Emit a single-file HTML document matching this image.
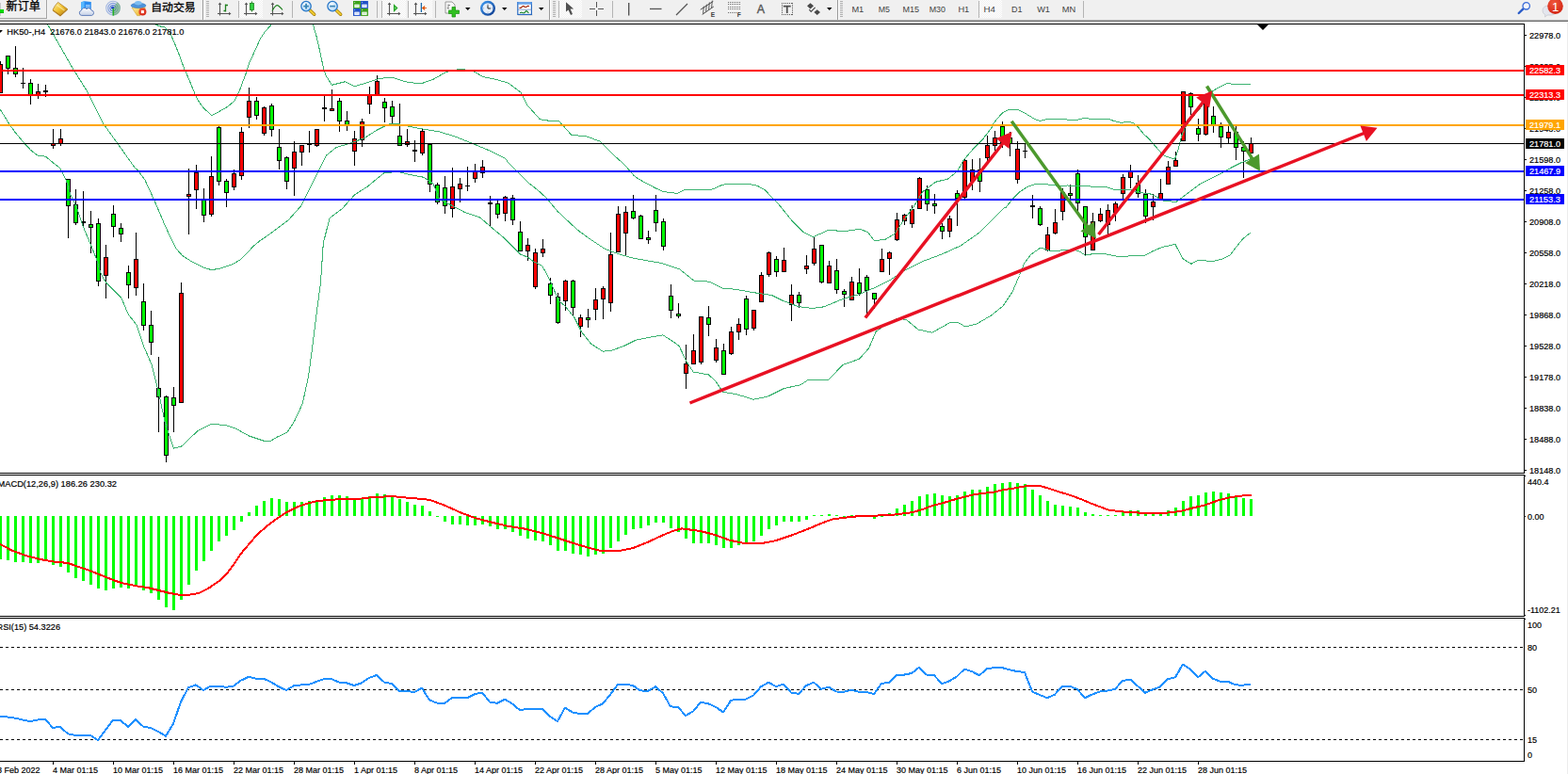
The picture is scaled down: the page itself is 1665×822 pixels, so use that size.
<!DOCTYPE html>
<html><head><meta charset="utf-8"><title>HK50-,H4</title>
<style>
html,body{margin:0;padding:0;background:#fff;}
body{width:1665px;height:822px;overflow:hidden;position:relative;font-family:"Liberation Sans",sans-serif;}
svg text{font-family:"Liberation Sans",sans-serif;}
</style></head><body>
<svg width="1665" height="822" viewBox="0 0 1665 822" style="position:absolute;left:0;top:0">
<defs><clipPath id="cm"><rect x="0" y="26" width="1618" height="476"/></clipPath><clipPath id="c2"><rect x="0" y="505" width="1618" height="149"/></clipPath><clipPath id="c3"><rect x="0" y="657" width="1618" height="151"/></clipPath></defs>
<rect x="0" y="0" width="1665" height="822" fill="#ffffff" />
<g clip-path="url(#cm)" shape-rendering="crispEdges">
<rect x="0" y="65" width="1" height="34" fill="#000" />
<rect x="-2" y="68" width="5" height="31" fill="#000" />
<rect x="-1" y="69" width="3" height="29" fill="#ff0000" />
<rect x="8" y="59" width="1" height="20" fill="#000" />
<rect x="6" y="59" width="5" height="14" fill="#000" />
<rect x="7" y="60" width="3" height="12" fill="#00ff00" />
<rect x="16" y="49" width="1" height="33" fill="#000" />
<rect x="14" y="72" width="5" height="7" fill="#000" />
<rect x="15" y="73" width="3" height="5" fill="#00ff00" />
<rect x="24" y="72" width="1" height="22" fill="#000" />
<rect x="22" y="88" width="5" height="1" fill="#000" />
<rect x="32" y="84" width="1" height="27" fill="#000" />
<rect x="30" y="88" width="5" height="14" fill="#000" />
<rect x="31" y="89" width="3" height="12" fill="#00ff00" />
<rect x="40" y="89" width="1" height="16" fill="#000" />
<rect x="38" y="97" width="5" height="4" fill="#000" />
<rect x="39" y="98" width="3" height="2" fill="#ff0000" />
<rect x="48" y="90" width="1" height="13" fill="#000" />
<rect x="46" y="96" width="5" height="2" fill="#000" />
<rect x="56" y="137" width="1" height="21" fill="#000" />
<rect x="54" y="152" width="5" height="3" fill="#000" />
<rect x="55" y="153" width="3" height="1" fill="#ff0000" />
<rect x="64" y="137" width="1" height="18" fill="#000" />
<rect x="62" y="147" width="5" height="6" fill="#000" />
<rect x="63" y="148" width="3" height="4" fill="#ff0000" />
<rect x="72" y="190" width="1" height="63" fill="#000" />
<rect x="70" y="190" width="5" height="29" fill="#000" />
<rect x="71" y="191" width="3" height="27" fill="#00ff00" />
<rect x="80" y="201" width="1" height="38" fill="#000" />
<rect x="78" y="217" width="5" height="20" fill="#000" />
<rect x="79" y="218" width="3" height="18" fill="#00ff00" />
<rect x="88" y="203" width="1" height="39" fill="#000" />
<rect x="86" y="235" width="5" height="2" fill="#000" />
<rect x="96" y="224" width="1" height="45" fill="#000" />
<rect x="94" y="238" width="5" height="4" fill="#000" />
<rect x="95" y="239" width="3" height="2" fill="#00ff00" />
<rect x="104" y="232" width="1" height="72" fill="#000" />
<rect x="102" y="237" width="5" height="62" fill="#000" />
<rect x="103" y="238" width="3" height="60" fill="#00ff00" />
<rect x="112" y="260" width="1" height="57" fill="#000" />
<rect x="110" y="273" width="5" height="20" fill="#000" />
<rect x="111" y="274" width="3" height="18" fill="#ff0000" />
<rect x="120" y="218" width="1" height="34" fill="#000" />
<rect x="118" y="227" width="5" height="14" fill="#000" />
<rect x="119" y="228" width="3" height="12" fill="#00ff00" />
<rect x="128" y="237" width="1" height="20" fill="#000" />
<rect x="126" y="242" width="5" height="7" fill="#000" />
<rect x="127" y="243" width="3" height="5" fill="#00ff00" />
<rect x="136" y="282" width="1" height="35" fill="#000" />
<rect x="134" y="289" width="5" height="14" fill="#000" />
<rect x="135" y="290" width="3" height="12" fill="#00ff00" />
<rect x="144" y="247" width="1" height="67" fill="#000" />
<rect x="142" y="275" width="5" height="31" fill="#000" />
<rect x="143" y="276" width="3" height="29" fill="#ff0000" />
<rect x="152" y="301" width="1" height="50" fill="#000" />
<rect x="150" y="320" width="5" height="26" fill="#000" />
<rect x="151" y="321" width="3" height="24" fill="#00ff00" />
<rect x="160" y="330" width="1" height="47" fill="#000" />
<rect x="158" y="345" width="5" height="19" fill="#000" />
<rect x="159" y="346" width="3" height="17" fill="#00ff00" />
<rect x="168" y="379" width="1" height="80" fill="#000" />
<rect x="166" y="412" width="5" height="10" fill="#000" />
<rect x="167" y="413" width="3" height="8" fill="#00ff00" />
<rect x="176" y="420" width="1" height="71" fill="#000" />
<rect x="174" y="421" width="5" height="63" fill="#000" />
<rect x="175" y="422" width="3" height="61" fill="#00ff00" />
<rect x="184" y="411" width="1" height="48" fill="#000" />
<rect x="182" y="422" width="5" height="9" fill="#000" />
<rect x="183" y="423" width="3" height="7" fill="#00ff00" />
<rect x="192" y="300" width="1" height="128" fill="#000" />
<rect x="190" y="311" width="5" height="117" fill="#000" />
<rect x="191" y="312" width="3" height="115" fill="#ff0000" />
<rect x="200" y="179" width="1" height="70" fill="#000" />
<rect x="198" y="206" width="5" height="3" fill="#000" />
<rect x="199" y="207" width="3" height="1" fill="#ff0000" />
<rect x="208" y="175" width="1" height="47" fill="#000" />
<rect x="206" y="183" width="5" height="19" fill="#000" />
<rect x="207" y="184" width="3" height="17" fill="#ff0000" />
<rect x="216" y="200" width="1" height="36" fill="#000" />
<rect x="214" y="212" width="5" height="17" fill="#000" />
<rect x="215" y="213" width="3" height="15" fill="#00ff00" />
<rect x="224" y="166" width="1" height="64" fill="#000" />
<rect x="222" y="187" width="5" height="41" fill="#000" />
<rect x="223" y="188" width="3" height="39" fill="#ff0000" />
<rect x="232" y="134" width="1" height="63" fill="#000" />
<rect x="230" y="135" width="5" height="58" fill="#000" />
<rect x="231" y="136" width="3" height="56" fill="#00ff00" />
<rect x="240" y="190" width="1" height="30" fill="#000" />
<rect x="238" y="192" width="5" height="13" fill="#000" />
<rect x="239" y="193" width="3" height="11" fill="#00ff00" />
<rect x="248" y="180" width="1" height="22" fill="#000" />
<rect x="246" y="184" width="5" height="15" fill="#000" />
<rect x="247" y="185" width="3" height="13" fill="#ff0000" />
<rect x="256" y="135" width="1" height="56" fill="#000" />
<rect x="254" y="140" width="5" height="47" fill="#000" />
<rect x="255" y="141" width="3" height="45" fill="#ff0000" />
<rect x="264" y="93" width="1" height="43" fill="#000" />
<rect x="262" y="107" width="5" height="18" fill="#000" />
<rect x="263" y="108" width="3" height="16" fill="#ff0000" />
<rect x="272" y="103" width="1" height="24" fill="#000" />
<rect x="270" y="107" width="5" height="16" fill="#000" />
<rect x="271" y="108" width="3" height="14" fill="#00ff00" />
<rect x="280" y="113" width="1" height="31" fill="#000" />
<rect x="278" y="114" width="5" height="28" fill="#000" />
<rect x="279" y="115" width="3" height="26" fill="#ff0000" />
<rect x="288" y="110" width="1" height="35" fill="#000" />
<rect x="286" y="112" width="5" height="26" fill="#000" />
<rect x="287" y="113" width="3" height="24" fill="#00ff00" />
<rect x="296" y="137" width="1" height="43" fill="#000" />
<rect x="294" y="156" width="5" height="15" fill="#000" />
<rect x="295" y="157" width="3" height="13" fill="#00ff00" />
<rect x="304" y="166" width="1" height="35" fill="#000" />
<rect x="302" y="167" width="5" height="26" fill="#000" />
<rect x="303" y="168" width="3" height="24" fill="#00ff00" />
<rect x="312" y="150" width="1" height="58" fill="#000" />
<rect x="310" y="161" width="5" height="18" fill="#000" />
<rect x="311" y="162" width="3" height="16" fill="#ff0000" />
<rect x="320" y="154" width="1" height="22" fill="#000" />
<rect x="318" y="154" width="5" height="8" fill="#000" />
<rect x="319" y="155" width="3" height="6" fill="#ff0000" />
<rect x="328" y="139" width="1" height="23" fill="#000" />
<rect x="326" y="153" width="5" height="1" fill="#000" />
<rect x="336" y="137" width="1" height="19" fill="#000" />
<rect x="334" y="137" width="5" height="18" fill="#000" />
<rect x="335" y="138" width="3" height="16" fill="#ff0000" />
<rect x="344" y="102" width="1" height="27" fill="#000" />
<rect x="342" y="114" width="5" height="2" fill="#000" />
<rect x="352" y="95" width="1" height="23" fill="#000" />
<rect x="350" y="115" width="5" height="3" fill="#000" />
<rect x="351" y="116" width="3" height="1" fill="#ff0000" />
<rect x="360" y="104" width="1" height="36" fill="#000" />
<rect x="358" y="107" width="5" height="22" fill="#000" />
<rect x="359" y="108" width="3" height="20" fill="#00ff00" />
<rect x="368" y="118" width="1" height="21" fill="#000" />
<rect x="366" y="128" width="5" height="5" fill="#000" />
<rect x="367" y="129" width="3" height="3" fill="#00ff00" />
<rect x="376" y="139" width="1" height="37" fill="#000" />
<rect x="374" y="147" width="5" height="14" fill="#000" />
<rect x="375" y="148" width="3" height="12" fill="#ff0000" />
<rect x="384" y="126" width="1" height="30" fill="#000" />
<rect x="382" y="129" width="5" height="20" fill="#000" />
<rect x="383" y="130" width="3" height="18" fill="#ff0000" />
<rect x="392" y="92" width="1" height="29" fill="#000" />
<rect x="390" y="101" width="5" height="10" fill="#000" />
<rect x="391" y="102" width="3" height="8" fill="#ff0000" />
<rect x="400" y="80" width="1" height="22" fill="#000" />
<rect x="398" y="86" width="5" height="16" fill="#000" />
<rect x="399" y="87" width="3" height="14" fill="#ff0000" />
<rect x="408" y="104" width="1" height="26" fill="#000" />
<rect x="406" y="108" width="5" height="7" fill="#000" />
<rect x="407" y="109" width="3" height="5" fill="#00ff00" />
<rect x="416" y="107" width="1" height="25" fill="#000" />
<rect x="414" y="113" width="5" height="11" fill="#000" />
<rect x="415" y="114" width="3" height="9" fill="#00ff00" />
<rect x="424" y="110" width="1" height="45" fill="#000" />
<rect x="422" y="144" width="5" height="11" fill="#000" />
<rect x="423" y="145" width="3" height="9" fill="#00ff00" />
<rect x="432" y="137" width="1" height="19" fill="#000" />
<rect x="430" y="150" width="5" height="4" fill="#000" />
<rect x="431" y="151" width="3" height="2" fill="#ff0000" />
<rect x="440" y="149" width="1" height="23" fill="#000" />
<rect x="438" y="159" width="5" height="2" fill="#000" />
<rect x="448" y="136" width="1" height="29" fill="#000" />
<rect x="446" y="139" width="5" height="24" fill="#000" />
<rect x="447" y="140" width="3" height="22" fill="#ff0000" />
<rect x="456" y="152" width="1" height="52" fill="#000" />
<rect x="454" y="153" width="5" height="43" fill="#000" />
<rect x="455" y="154" width="3" height="41" fill="#00ff00" />
<rect x="464" y="194" width="1" height="23" fill="#000" />
<rect x="462" y="196" width="5" height="19" fill="#000" />
<rect x="463" y="197" width="3" height="17" fill="#00ff00" />
<rect x="472" y="187" width="1" height="40" fill="#000" />
<rect x="470" y="199" width="5" height="20" fill="#000" />
<rect x="471" y="200" width="3" height="18" fill="#00ff00" />
<rect x="480" y="178" width="1" height="53" fill="#000" />
<rect x="478" y="198" width="5" height="24" fill="#000" />
<rect x="479" y="199" width="3" height="22" fill="#ff0000" />
<rect x="488" y="189" width="1" height="26" fill="#000" />
<rect x="486" y="195" width="5" height="6" fill="#000" />
<rect x="487" y="196" width="3" height="4" fill="#ff0000" />
<rect x="496" y="177" width="1" height="26" fill="#000" />
<rect x="494" y="197" width="5" height="1" fill="#000" />
<rect x="504" y="174" width="1" height="20" fill="#000" />
<rect x="502" y="182" width="5" height="8" fill="#000" />
<rect x="503" y="183" width="3" height="6" fill="#ff0000" />
<rect x="512" y="170" width="1" height="19" fill="#000" />
<rect x="510" y="177" width="5" height="7" fill="#000" />
<rect x="511" y="178" width="3" height="5" fill="#ff0000" />
<rect x="520" y="208" width="1" height="32" fill="#000" />
<rect x="518" y="215" width="5" height="2" fill="#000" />
<rect x="528" y="213" width="1" height="19" fill="#000" />
<rect x="526" y="216" width="5" height="12" fill="#000" />
<rect x="527" y="217" width="3" height="10" fill="#00ff00" />
<rect x="536" y="208" width="1" height="27" fill="#000" />
<rect x="534" y="209" width="5" height="18" fill="#000" />
<rect x="535" y="210" width="3" height="16" fill="#ff0000" />
<rect x="544" y="207" width="1" height="32" fill="#000" />
<rect x="542" y="210" width="5" height="24" fill="#000" />
<rect x="543" y="211" width="3" height="22" fill="#00ff00" />
<rect x="552" y="235" width="1" height="32" fill="#000" />
<rect x="550" y="246" width="5" height="21" fill="#000" />
<rect x="551" y="247" width="3" height="19" fill="#00ff00" />
<rect x="560" y="253" width="1" height="24" fill="#000" />
<rect x="558" y="260" width="5" height="7" fill="#000" />
<rect x="559" y="261" width="3" height="5" fill="#ff0000" />
<rect x="568" y="264" width="1" height="43" fill="#000" />
<rect x="566" y="268" width="5" height="37" fill="#000" />
<rect x="567" y="269" width="3" height="35" fill="#ff0000" />
<rect x="576" y="254" width="1" height="19" fill="#000" />
<rect x="574" y="264" width="5" height="5" fill="#000" />
<rect x="575" y="265" width="3" height="3" fill="#ff0000" />
<rect x="584" y="295" width="1" height="28" fill="#000" />
<rect x="582" y="301" width="5" height="13" fill="#000" />
<rect x="583" y="302" width="3" height="11" fill="#00ff00" />
<rect x="592" y="311" width="1" height="33" fill="#000" />
<rect x="590" y="315" width="5" height="28" fill="#000" />
<rect x="591" y="316" width="3" height="26" fill="#00ff00" />
<rect x="600" y="297" width="1" height="33" fill="#000" />
<rect x="598" y="298" width="5" height="22" fill="#000" />
<rect x="599" y="299" width="3" height="20" fill="#ff0000" />
<rect x="608" y="297" width="1" height="39" fill="#000" />
<rect x="606" y="298" width="5" height="29" fill="#000" />
<rect x="607" y="299" width="3" height="27" fill="#00ff00" />
<rect x="616" y="334" width="1" height="24" fill="#000" />
<rect x="614" y="337" width="5" height="10" fill="#000" />
<rect x="615" y="338" width="3" height="8" fill="#ff0000" />
<rect x="624" y="328" width="1" height="20" fill="#000" />
<rect x="622" y="337" width="5" height="3" fill="#000" />
<rect x="623" y="338" width="3" height="1" fill="#00ff00" />
<rect x="632" y="306" width="1" height="34" fill="#000" />
<rect x="630" y="318" width="5" height="11" fill="#000" />
<rect x="631" y="319" width="3" height="9" fill="#ff0000" />
<rect x="640" y="304" width="1" height="35" fill="#000" />
<rect x="638" y="306" width="5" height="12" fill="#000" />
<rect x="639" y="307" width="3" height="10" fill="#ff0000" />
<rect x="648" y="247" width="1" height="84" fill="#000" />
<rect x="646" y="270" width="5" height="52" fill="#000" />
<rect x="647" y="271" width="3" height="50" fill="#ff0000" />
<rect x="656" y="219" width="1" height="49" fill="#000" />
<rect x="654" y="227" width="5" height="41" fill="#000" />
<rect x="655" y="228" width="3" height="39" fill="#ff0000" />
<rect x="664" y="219" width="1" height="52" fill="#000" />
<rect x="662" y="225" width="5" height="23" fill="#000" />
<rect x="663" y="226" width="3" height="21" fill="#ff0000" />
<rect x="672" y="207" width="1" height="26" fill="#000" />
<rect x="670" y="224" width="5" height="8" fill="#000" />
<rect x="671" y="225" width="3" height="6" fill="#00ff00" />
<rect x="680" y="228" width="1" height="26" fill="#000" />
<rect x="678" y="229" width="5" height="25" fill="#000" />
<rect x="679" y="230" width="3" height="23" fill="#00ff00" />
<rect x="688" y="245" width="1" height="14" fill="#000" />
<rect x="686" y="252" width="5" height="3" fill="#000" />
<rect x="687" y="253" width="3" height="1" fill="#00ff00" />
<rect x="696" y="207" width="1" height="39" fill="#000" />
<rect x="694" y="223" width="5" height="14" fill="#000" />
<rect x="695" y="224" width="3" height="12" fill="#00ff00" />
<rect x="704" y="232" width="1" height="34" fill="#000" />
<rect x="702" y="235" width="5" height="27" fill="#000" />
<rect x="703" y="236" width="3" height="25" fill="#00ff00" />
<rect x="712" y="302" width="1" height="36" fill="#000" />
<rect x="710" y="314" width="5" height="16" fill="#000" />
<rect x="711" y="315" width="3" height="14" fill="#00ff00" />
<rect x="720" y="322" width="1" height="16" fill="#000" />
<rect x="718" y="333" width="5" height="3" fill="#000" />
<rect x="719" y="334" width="3" height="1" fill="#00ff00" />
<rect x="728" y="366" width="1" height="47" fill="#000" />
<rect x="726" y="386" width="5" height="11" fill="#000" />
<rect x="727" y="387" width="3" height="9" fill="#ff0000" />
<rect x="736" y="355" width="1" height="32" fill="#000" />
<rect x="734" y="372" width="5" height="15" fill="#000" />
<rect x="735" y="373" width="3" height="13" fill="#ff0000" />
<rect x="744" y="336" width="1" height="51" fill="#000" />
<rect x="742" y="336" width="5" height="49" fill="#000" />
<rect x="743" y="337" width="3" height="47" fill="#ff0000" />
<rect x="752" y="325" width="1" height="32" fill="#000" />
<rect x="750" y="337" width="5" height="8" fill="#000" />
<rect x="751" y="338" width="3" height="6" fill="#00ff00" />
<rect x="760" y="360" width="1" height="25" fill="#000" />
<rect x="758" y="369" width="5" height="14" fill="#000" />
<rect x="759" y="370" width="3" height="12" fill="#ff0000" />
<rect x="768" y="365" width="1" height="33" fill="#000" />
<rect x="766" y="372" width="5" height="26" fill="#000" />
<rect x="767" y="373" width="3" height="24" fill="#00ff00" />
<rect x="776" y="347" width="1" height="30" fill="#000" />
<rect x="774" y="352" width="5" height="24" fill="#000" />
<rect x="775" y="353" width="3" height="22" fill="#ff0000" />
<rect x="784" y="338" width="1" height="23" fill="#000" />
<rect x="782" y="344" width="5" height="9" fill="#000" />
<rect x="783" y="345" width="3" height="7" fill="#ff0000" />
<rect x="792" y="314" width="1" height="42" fill="#000" />
<rect x="790" y="317" width="5" height="33" fill="#000" />
<rect x="791" y="318" width="3" height="31" fill="#00ff00" />
<rect x="800" y="329" width="1" height="22" fill="#000" />
<rect x="798" y="329" width="5" height="20" fill="#000" />
<rect x="799" y="330" width="3" height="18" fill="#ff0000" />
<rect x="808" y="289" width="1" height="32" fill="#000" />
<rect x="806" y="292" width="5" height="29" fill="#000" />
<rect x="807" y="293" width="3" height="27" fill="#ff0000" />
<rect x="816" y="267" width="1" height="27" fill="#000" />
<rect x="814" y="268" width="5" height="24" fill="#000" />
<rect x="815" y="269" width="3" height="22" fill="#ff0000" />
<rect x="824" y="272" width="1" height="22" fill="#000" />
<rect x="822" y="275" width="5" height="14" fill="#000" />
<rect x="823" y="276" width="3" height="12" fill="#00ff00" />
<rect x="832" y="263" width="1" height="26" fill="#000" />
<rect x="830" y="276" width="5" height="13" fill="#000" />
<rect x="831" y="277" width="3" height="11" fill="#ff0000" />
<rect x="840" y="302" width="1" height="39" fill="#000" />
<rect x="838" y="313" width="5" height="11" fill="#000" />
<rect x="839" y="314" width="3" height="9" fill="#ff0000" />
<rect x="848" y="310" width="1" height="17" fill="#000" />
<rect x="846" y="313" width="5" height="9" fill="#000" />
<rect x="847" y="314" width="3" height="7" fill="#00ff00" />
<rect x="856" y="271" width="1" height="20" fill="#000" />
<rect x="854" y="282" width="5" height="4" fill="#000" />
<rect x="855" y="283" width="3" height="2" fill="#ff0000" />
<rect x="864" y="252" width="1" height="30" fill="#000" />
<rect x="862" y="264" width="5" height="16" fill="#000" />
<rect x="863" y="265" width="3" height="14" fill="#ff0000" />
<rect x="872" y="260" width="1" height="41" fill="#000" />
<rect x="870" y="260" width="5" height="40" fill="#000" />
<rect x="871" y="261" width="3" height="38" fill="#00ff00" />
<rect x="880" y="277" width="1" height="24" fill="#000" />
<rect x="878" y="282" width="5" height="19" fill="#000" />
<rect x="879" y="283" width="3" height="17" fill="#ff0000" />
<rect x="888" y="275" width="1" height="37" fill="#000" />
<rect x="886" y="287" width="5" height="21" fill="#000" />
<rect x="887" y="288" width="3" height="19" fill="#00ff00" />
<rect x="896" y="307" width="1" height="19" fill="#000" />
<rect x="894" y="309" width="5" height="4" fill="#000" />
<rect x="895" y="310" width="3" height="2" fill="#00ff00" />
<rect x="904" y="294" width="1" height="25" fill="#000" />
<rect x="902" y="299" width="5" height="20" fill="#000" />
<rect x="903" y="300" width="3" height="18" fill="#ff0000" />
<rect x="912" y="285" width="1" height="29" fill="#000" />
<rect x="910" y="300" width="5" height="12" fill="#000" />
<rect x="911" y="301" width="3" height="10" fill="#00ff00" />
<rect x="920" y="292" width="1" height="43" fill="#000" />
<rect x="918" y="294" width="5" height="15" fill="#000" />
<rect x="919" y="295" width="3" height="13" fill="#00ff00" />
<rect x="928" y="311" width="1" height="17" fill="#000" />
<rect x="926" y="311" width="5" height="7" fill="#000" />
<rect x="927" y="312" width="3" height="5" fill="#00ff00" />
<rect x="936" y="264" width="1" height="25" fill="#000" />
<rect x="934" y="275" width="5" height="14" fill="#000" />
<rect x="935" y="276" width="3" height="12" fill="#ff0000" />
<rect x="944" y="267" width="1" height="25" fill="#000" />
<rect x="942" y="268" width="5" height="7" fill="#000" />
<rect x="943" y="269" width="3" height="5" fill="#ff0000" />
<rect x="952" y="226" width="1" height="30" fill="#000" />
<rect x="950" y="233" width="5" height="22" fill="#000" />
<rect x="951" y="234" width="3" height="20" fill="#ff0000" />
<rect x="960" y="227" width="1" height="12" fill="#000" />
<rect x="958" y="228" width="5" height="7" fill="#000" />
<rect x="959" y="229" width="3" height="5" fill="#ff0000" />
<rect x="968" y="218" width="1" height="24" fill="#000" />
<rect x="966" y="222" width="5" height="16" fill="#000" />
<rect x="967" y="223" width="3" height="14" fill="#ff0000" />
<rect x="976" y="188" width="1" height="34" fill="#000" />
<rect x="974" y="189" width="5" height="33" fill="#000" />
<rect x="975" y="190" width="3" height="31" fill="#ff0000" />
<rect x="984" y="197" width="1" height="27" fill="#000" />
<rect x="982" y="201" width="5" height="16" fill="#000" />
<rect x="983" y="202" width="3" height="14" fill="#00ff00" />
<rect x="992" y="206" width="1" height="21" fill="#000" />
<rect x="990" y="216" width="5" height="3" fill="#000" />
<rect x="991" y="217" width="3" height="1" fill="#00ff00" />
<rect x="1000" y="237" width="1" height="17" fill="#000" />
<rect x="998" y="240" width="5" height="6" fill="#000" />
<rect x="999" y="241" width="3" height="4" fill="#00ff00" />
<rect x="1008" y="229" width="1" height="23" fill="#000" />
<rect x="1006" y="232" width="5" height="14" fill="#000" />
<rect x="1007" y="233" width="3" height="12" fill="#ff0000" />
<rect x="1016" y="202" width="1" height="38" fill="#000" />
<rect x="1014" y="205" width="5" height="6" fill="#000" />
<rect x="1015" y="206" width="3" height="4" fill="#00ff00" />
<rect x="1024" y="168" width="1" height="43" fill="#000" />
<rect x="1022" y="170" width="5" height="40" fill="#000" />
<rect x="1023" y="171" width="3" height="38" fill="#ff0000" />
<rect x="1032" y="169" width="1" height="33" fill="#000" />
<rect x="1030" y="180" width="5" height="13" fill="#000" />
<rect x="1031" y="181" width="3" height="11" fill="#ff0000" />
<rect x="1040" y="168" width="1" height="36" fill="#000" />
<rect x="1038" y="180" width="5" height="13" fill="#000" />
<rect x="1039" y="181" width="3" height="11" fill="#00ff00" />
<rect x="1048" y="144" width="1" height="27" fill="#000" />
<rect x="1046" y="154" width="5" height="14" fill="#000" />
<rect x="1047" y="155" width="3" height="12" fill="#ff0000" />
<rect x="1056" y="139" width="1" height="21" fill="#000" />
<rect x="1054" y="146" width="5" height="9" fill="#000" />
<rect x="1055" y="147" width="3" height="7" fill="#ff0000" />
<rect x="1064" y="129" width="1" height="28" fill="#000" />
<rect x="1062" y="134" width="5" height="18" fill="#000" />
<rect x="1063" y="135" width="3" height="16" fill="#00ff00" />
<rect x="1072" y="140" width="1" height="26" fill="#000" />
<rect x="1070" y="146" width="5" height="7" fill="#000" />
<rect x="1071" y="147" width="3" height="5" fill="#00ff00" />
<rect x="1080" y="150" width="1" height="45" fill="#000" />
<rect x="1078" y="158" width="5" height="33" fill="#000" />
<rect x="1079" y="159" width="3" height="31" fill="#ff0000" />
<rect x="1088" y="152" width="1" height="16" fill="#000" />
<rect x="1086" y="160" width="5" height="1" fill="#000" />
<rect x="1096" y="207" width="1" height="25" fill="#000" />
<rect x="1094" y="218" width="5" height="2" fill="#000" />
<rect x="1104" y="219" width="1" height="21" fill="#000" />
<rect x="1102" y="221" width="5" height="18" fill="#000" />
<rect x="1103" y="222" width="3" height="16" fill="#00ff00" />
<rect x="1112" y="241" width="1" height="26" fill="#000" />
<rect x="1110" y="249" width="5" height="17" fill="#000" />
<rect x="1111" y="250" width="3" height="15" fill="#ff0000" />
<rect x="1120" y="222" width="1" height="27" fill="#000" />
<rect x="1118" y="236" width="5" height="12" fill="#000" />
<rect x="1119" y="237" width="3" height="10" fill="#ff0000" />
<rect x="1128" y="200" width="1" height="34" fill="#000" />
<rect x="1126" y="204" width="5" height="21" fill="#000" />
<rect x="1127" y="205" width="3" height="19" fill="#ff0000" />
<rect x="1136" y="196" width="1" height="15" fill="#000" />
<rect x="1134" y="205" width="5" height="3" fill="#000" />
<rect x="1135" y="206" width="3" height="1" fill="#00ff00" />
<rect x="1144" y="180" width="1" height="44" fill="#000" />
<rect x="1142" y="184" width="5" height="32" fill="#000" />
<rect x="1143" y="185" width="3" height="30" fill="#00ff00" />
<rect x="1152" y="219" width="1" height="52" fill="#000" />
<rect x="1150" y="219" width="5" height="33" fill="#000" />
<rect x="1151" y="220" width="3" height="31" fill="#00ff00" />
<rect x="1160" y="226" width="1" height="40" fill="#000" />
<rect x="1158" y="235" width="5" height="31" fill="#000" />
<rect x="1159" y="236" width="3" height="29" fill="#ff0000" />
<rect x="1168" y="221" width="1" height="15" fill="#000" />
<rect x="1166" y="227" width="5" height="8" fill="#000" />
<rect x="1167" y="228" width="3" height="6" fill="#ff0000" />
<rect x="1176" y="217" width="1" height="32" fill="#000" />
<rect x="1174" y="223" width="5" height="16" fill="#000" />
<rect x="1175" y="224" width="3" height="14" fill="#ff0000" />
<rect x="1184" y="214" width="1" height="21" fill="#000" />
<rect x="1182" y="216" width="5" height="10" fill="#000" />
<rect x="1183" y="217" width="3" height="8" fill="#ff0000" />
<rect x="1192" y="185" width="1" height="27" fill="#000" />
<rect x="1190" y="188" width="5" height="18" fill="#000" />
<rect x="1191" y="189" width="3" height="16" fill="#ff0000" />
<rect x="1200" y="175" width="1" height="25" fill="#000" />
<rect x="1198" y="182" width="5" height="7" fill="#000" />
<rect x="1199" y="183" width="3" height="5" fill="#ff0000" />
<rect x="1208" y="186" width="1" height="24" fill="#000" />
<rect x="1206" y="194" width="5" height="12" fill="#000" />
<rect x="1207" y="195" width="3" height="10" fill="#00ff00" />
<rect x="1216" y="201" width="1" height="36" fill="#000" />
<rect x="1214" y="206" width="5" height="24" fill="#000" />
<rect x="1215" y="207" width="3" height="22" fill="#00ff00" />
<rect x="1224" y="206" width="1" height="28" fill="#000" />
<rect x="1222" y="214" width="5" height="6" fill="#000" />
<rect x="1223" y="215" width="3" height="4" fill="#ff0000" />
<rect x="1232" y="190" width="1" height="22" fill="#000" />
<rect x="1230" y="205" width="5" height="7" fill="#000" />
<rect x="1231" y="206" width="3" height="5" fill="#ff0000" />
<rect x="1240" y="171" width="1" height="25" fill="#000" />
<rect x="1238" y="177" width="5" height="19" fill="#000" />
<rect x="1239" y="178" width="3" height="17" fill="#ff0000" />
<rect x="1248" y="161" width="1" height="16" fill="#000" />
<rect x="1246" y="170" width="5" height="7" fill="#000" />
<rect x="1247" y="171" width="3" height="5" fill="#ff0000" />
<rect x="1256" y="97" width="1" height="53" fill="#000" />
<rect x="1254" y="97" width="5" height="53" fill="#000" />
<rect x="1255" y="98" width="3" height="51" fill="#ff0000" />
<rect x="1264" y="98" width="1" height="24" fill="#000" />
<rect x="1262" y="99" width="5" height="15" fill="#000" />
<rect x="1263" y="100" width="3" height="13" fill="#00ff00" />
<rect x="1272" y="126" width="1" height="24" fill="#000" />
<rect x="1270" y="136" width="5" height="7" fill="#000" />
<rect x="1271" y="137" width="3" height="5" fill="#00ff00" />
<rect x="1280" y="100" width="1" height="44" fill="#000" />
<rect x="1278" y="100" width="5" height="43" fill="#000" />
<rect x="1279" y="101" width="3" height="41" fill="#ff0000" />
<rect x="1288" y="113" width="1" height="28" fill="#000" />
<rect x="1286" y="123" width="5" height="10" fill="#000" />
<rect x="1287" y="124" width="3" height="8" fill="#00ff00" />
<rect x="1296" y="130" width="1" height="27" fill="#000" />
<rect x="1294" y="134" width="5" height="12" fill="#000" />
<rect x="1295" y="135" width="3" height="10" fill="#00ff00" />
<rect x="1304" y="132" width="1" height="20" fill="#000" />
<rect x="1302" y="140" width="5" height="7" fill="#000" />
<rect x="1303" y="141" width="3" height="5" fill="#ff0000" />
<rect x="1312" y="134" width="1" height="36" fill="#000" />
<rect x="1310" y="140" width="5" height="17" fill="#000" />
<rect x="1311" y="141" width="3" height="15" fill="#00ff00" />
<rect x="1320" y="150" width="1" height="39" fill="#000" />
<rect x="1318" y="156" width="5" height="5" fill="#000" />
<rect x="1319" y="157" width="3" height="3" fill="#00ff00" />
<rect x="1328" y="146" width="1" height="17" fill="#000" />
<rect x="1326" y="152" width="5" height="11" fill="#000" />
<rect x="1327" y="153" width="3" height="9" fill="#ff0000" />
<polyline points="165.2,25.8 169.0,27.7 175.3,29.0 180.4,34.6 185.4,46.0 190.5,58.7 195.5,72.6 200.6,84.0 205.7,96.6 209.5,105.5 215.8,114.3 224.6,122.6 232.2,118.8 241.1,113.7 248.7,107.4 253.7,97.9 257.5,87.8 261.3,77.7 264.5,67.5 270.2,54.9 276.5,41.0 281.6,33.4 287.9,26.4 289.0,25.0" fill="none" stroke="#3cb371" stroke-width="1" />
<polyline points="332.0,25.0 336.0,38.4 339.8,54.9 343.5,72.6 346.1,80.2 352.4,90.3 357.5,89.0 366.7,86.7 376.7,91.7 390.0,87.7 403.3,83.3 416.7,82.3 430.0,86.7 446.7,89.0 460.0,84.3 473.3,76.7 486.7,73.7 500.0,74.3 513.3,81.7 526.7,84.3 540.0,88.3 553.3,98.3 560.0,111.7 573.3,126.7 583.3,128.3 593.3,128.3 606.7,143.3 623.3,145.0 636.7,150.0 650.0,163.3 663.3,175.0 673.3,186.7 677.8,190.0 686.5,194.7 696.0,199.8 703.9,203.4 711.8,204.7 719.7,205.3 727.6,201.4 741.9,201.4 756.1,201.1 767.2,196.3 773.5,195.2 794.1,195.2 803.6,197.1 811.5,201.1 820.0,209.8 826.7,216.7 840.0,233.3 853.3,246.7 863.3,251.7 880.0,244.3 896.7,245.7 913.3,243.3 921.7,246.7 928.3,255.7 940.0,254.3 950.0,248.3 960.0,233.3 970.0,220.0 980.0,203.3 993.3,193.3 1006.7,190.0 1016.7,181.7 1023.3,170.0 1033.3,158.3 1043.3,148.3 1053.3,135.0 1054.9,131.4 1058.9,126.1 1064.3,120.0 1071.0,116.3 1080.3,116.0 1087.0,119.4 1093.7,123.4 1099.1,126.7 1104.4,128.5 1111.1,126.7 1120.5,126.7 1127.2,126.1 1133.9,127.1 1144.6,127.1 1151.3,125.4 1158.0,126.3 1167.3,126.3 1176.7,126.3 1183.4,128.7 1190.1,130.3 1198.1,129.4 1203.5,130.7 1208.8,135.4 1214.2,142.1 1220.0,147.5 1224.8,153.0 1235.0,164.7 1242.3,167.6 1247.4,169.0 1249.3,164.7 1251.0,158.8 1254.7,144.2 1258.3,135.5 1265.6,125.3 1274.4,115.0 1281.7,104.8 1287.5,96.8 1294.8,92.4 1303.6,88.3 1309.4,89.5 1328.0,89.5" fill="none" stroke="#3cb371" stroke-width="1" />
<polyline points="50.0,25.0 63.3,48.3 76.7,71.7 93.3,98.3 110.0,131.7 126.7,155.0 143.3,178.3 145.7,180.0 153.7,190.7 161.7,208.0 167.0,220.0 173.8,236.2 180.5,251.0 187.2,264.3 193.9,271.7 204.6,278.4 215.3,283.7 224.7,286.7 234.0,285.0 247.4,280.4 255.4,275.7 260.8,270.4 268.8,261.7 276.8,255.0 280.0,253.0 286.7,248.3 306.7,233.3 320.0,218.3 333.3,191.7 340.0,178.3 346.7,165.0 356.7,156.7 373.3,151.7 386.7,146.7 400.0,138.3 413.3,131.7 423.3,131.7 430.0,133.3 446.7,136.7 466.7,140.0 483.3,145.0 500.0,151.7 520.0,160.0 536.7,168.3 540.0,173.3 556.7,190.0 560.0,193.2 571.1,201.9 580.6,210.6 591.6,224.0 605.9,237.4 613.8,244.6 623.3,251.7 632.7,258.0 642.2,264.3 654.9,269.1 670.7,273.8 686.5,276.7 702.3,279.4 711.8,282.5 721.3,285.7 729.2,292.0 737.1,298.3 752.9,299.1 759.3,302.3 767.2,306.2 781.4,307.3 797.2,310.2 813.0,312.6 820.0,313.7 830.0,318.8 847.5,325.5 862.5,327.5 875.0,325.8 895.0,317.5 912.5,312.5 930.0,305.0 945.0,297.5 960.0,287.5 980.0,277.5 1000.0,270.0 1020.0,261.0 1040.0,247.0 1053.3,234.0 1066.7,220.0 1068.3,220.0 1075.0,211.7 1083.0,203.7 1091.0,198.4 1099.0,195.7 1107.1,195.0 1115.1,196.3 1123.2,197.3 1133.9,197.0 1147.3,197.7 1160.6,198.1 1174.0,198.4 1182.0,201.0 1190.0,201.7 1198.1,201.0 1204.8,203.0 1214.2,205.0 1220.0,205.3 1225.0,207.5 1235.0,213.0 1248.8,214.5 1255.0,210.0 1265.0,202.5 1275.0,195.0 1285.0,190.0 1297.5,183.8 1307.5,178.0 1317.5,173.0 1328.0,168.8" fill="none" stroke="#3cb371" stroke-width="1" />
<polyline points="-2.0,112.5 0.0,115.8 9.7,131.6 15.8,140.1 25.5,151.7 32.8,159.6 40.1,165.1 48.7,166.3 57.2,173.6 63.9,178.5 66.3,183.9 70.6,192.4 74.7,206.8 81.4,220.0 88.1,240.0 96.0,259.0 102.8,276.0 106.8,290.0 112.5,300.0 128.8,316.2 136.2,333.8 145.0,345.0 152.5,367.5 161.2,387.5 168.0,415.0 175.0,447.5 184.5,476.2 192.5,474.2 210.0,457.5 225.0,450.2 240.0,451.8 250.0,455.0 265.0,463.2 280.0,468.2 287.5,468.2 295.0,463.8 305.0,459.2 312.5,447.5 321.2,428.8 327.5,400.0 332.5,362.5 336.2,332.5 340.5,300.0 343.3,258.3 350.0,231.7 363.3,221.7 376.7,206.7 390.0,198.3 400.0,190.0 408.3,183.3 423.3,182.7 433.3,185.0 450.0,188.3 460.0,195.0 466.7,211.7 480.0,218.3 492.5,225.0 510.0,231.2 520.0,240.0 535.0,252.5 547.5,265.0 552.5,270.0 560.0,273.0 567.9,278.6 575.8,282.5 580.6,291.2 585.3,300.7 590.0,311.8 594.0,320.0 600.0,325.0 610.0,337.5 617.5,352.5 627.5,365.0 640.0,373.2 650.0,372.0 662.5,367.5 675.0,361.2 690.0,358.2 703.8,355.8 712.5,361.2 721.2,367.5 728.8,383.8 736.2,395.0 752.5,398.0 760.0,405.0 767.5,416.2 782.5,418.8 800.0,424.2 815.0,421.2 832.5,412.5 850.0,408.8 857.5,403.8 880.0,403.0 895.0,387.5 912.5,381.2 922.5,370.0 930.0,352.5 940.0,345.0 952.5,338.2 962.5,339.5 975.0,350.0 990.0,353.2 1000.0,347.5 1010.0,342.0 1017.5,342.5 1025.0,347.0 1037.5,343.8 1052.5,335.0 1065.0,325.0 1075.0,310.0 1082.5,292.5 1087.5,280.0 1095.0,270.0 1105.0,263.0 1117.5,267.0 1135.0,265.0 1145.0,266.2 1152.5,271.2 1162.5,269.2 1172.5,269.5 1185.0,272.0 1190.0,272.3 1203.6,271.8 1216.4,271.0 1224.0,266.7 1234.3,262.4 1247.9,259.4 1251.3,265.8 1256.4,275.2 1265.0,280.3 1271.8,276.4 1278.6,276.9 1288.8,277.4 1297.3,275.2 1305.8,271.3 1312.7,262.4 1319.5,253.9 1328.0,247.0" fill="none" stroke="#3cb371" stroke-width="1" />
<rect x="0" y="74" width="1618" height="2" fill="#ff0000" />
<rect x="0" y="100" width="1618" height="2" fill="#ff0000" />
<rect x="0" y="132" width="1618" height="2" fill="#ffa500" />
<rect x="0" y="152" width="1618" height="1" fill="#000000" />
<rect x="0" y="181" width="1618" height="2" fill="#0000ff" />
<rect x="0" y="211" width="1618" height="2" fill="#0000ff" />
</g>
<g clip-path="url(#cm)">
<line x1="732.5" y1="428.0" x2="1449.5" y2="141.0" stroke="#e81123" stroke-width="3.5"/>
<polygon points="1462.5,135.8 1450.9,149.9 1444.4,133.5" fill="#e81123"/>
<line x1="918.8" y1="337.5" x2="1065.8" y2="151.0" stroke="#e81123" stroke-width="3.5"/>
<polygon points="1074.5,140.0 1071.5,158.0 1057.7,147.1" fill="#e81123"/>
<line x1="1074.2" y1="128.8" x2="1155.7" y2="241.9" stroke="#4c992d" stroke-width="3.5"/>
<polygon points="1163.9,253.3 1147.4,245.5 1161.7,235.2" fill="#4c992d"/>
<line x1="1281.5" y1="91.5" x2="1330.6" y2="169.9" stroke="#4c992d" stroke-width="3.5"/>
<polygon points="1338.0,181.8 1322.1,172.9 1337.0,163.5" fill="#4c992d"/>
<line x1="1166.5" y1="249.0" x2="1278.4" y2="107.4" stroke="#e81123" stroke-width="3.5"/>
<polygon points="1287.1,96.4 1284.2,114.5 1270.2,103.4" fill="#e81123"/>
</g>
<g clip-path="url(#c2)" shape-rendering="crispEdges">
<rect x="-1" y="548" width="3" height="46" fill="#00ff00" />
<rect x="7" y="548" width="3" height="47" fill="#00ff00" />
<rect x="15" y="548" width="3" height="49" fill="#00ff00" />
<rect x="23" y="548" width="3" height="49" fill="#00ff00" />
<rect x="31" y="548" width="3" height="50" fill="#00ff00" />
<rect x="39" y="548" width="3" height="50" fill="#00ff00" />
<rect x="47" y="548" width="3" height="48" fill="#00ff00" />
<rect x="55" y="548" width="3" height="52" fill="#00ff00" />
<rect x="63" y="548" width="3" height="54" fill="#00ff00" />
<rect x="71" y="548" width="3" height="60" fill="#00ff00" />
<rect x="79" y="548" width="3" height="66" fill="#00ff00" />
<rect x="87" y="548" width="3" height="69" fill="#00ff00" />
<rect x="95" y="548" width="3" height="73" fill="#00ff00" />
<rect x="103" y="548" width="3" height="77" fill="#00ff00" />
<rect x="111" y="548" width="3" height="79" fill="#00ff00" />
<rect x="119" y="548" width="3" height="77" fill="#00ff00" />
<rect x="127" y="548" width="3" height="76" fill="#00ff00" />
<rect x="135" y="548" width="3" height="77" fill="#00ff00" />
<rect x="143" y="548" width="3" height="75" fill="#00ff00" />
<rect x="151" y="548" width="3" height="79" fill="#00ff00" />
<rect x="159" y="548" width="3" height="82" fill="#00ff00" />
<rect x="167" y="548" width="3" height="89" fill="#00ff00" />
<rect x="175" y="548" width="3" height="97" fill="#00ff00" />
<rect x="183" y="548" width="3" height="100" fill="#00ff00" />
<rect x="191" y="548" width="3" height="89" fill="#00ff00" />
<rect x="199" y="548" width="3" height="73" fill="#00ff00" />
<rect x="207" y="548" width="3" height="58" fill="#00ff00" />
<rect x="215" y="548" width="3" height="48" fill="#00ff00" />
<rect x="223" y="548" width="3" height="37" fill="#00ff00" />
<rect x="231" y="548" width="3" height="27" fill="#00ff00" />
<rect x="239" y="548" width="3" height="21" fill="#00ff00" />
<rect x="247" y="548" width="3" height="15" fill="#00ff00" />
<rect x="255" y="548" width="3" height="6" fill="#00ff00" />
<rect x="263" y="544" width="3" height="4" fill="#00ff00" />
<rect x="271" y="537" width="3" height="11" fill="#00ff00" />
<rect x="279" y="532" width="3" height="16" fill="#00ff00" />
<rect x="287" y="529" width="3" height="19" fill="#00ff00" />
<rect x="295" y="530" width="3" height="18" fill="#00ff00" />
<rect x="303" y="533" width="3" height="15" fill="#00ff00" />
<rect x="311" y="533" width="3" height="15" fill="#00ff00" />
<rect x="319" y="533" width="3" height="15" fill="#00ff00" />
<rect x="327" y="532" width="3" height="16" fill="#00ff00" />
<rect x="335" y="531" width="3" height="17" fill="#00ff00" />
<rect x="343" y="528" width="3" height="20" fill="#00ff00" />
<rect x="351" y="526" width="3" height="22" fill="#00ff00" />
<rect x="359" y="526" width="3" height="22" fill="#00ff00" />
<rect x="367" y="527" width="3" height="21" fill="#00ff00" />
<rect x="375" y="529" width="3" height="19" fill="#00ff00" />
<rect x="383" y="529" width="3" height="19" fill="#00ff00" />
<rect x="391" y="527" width="3" height="21" fill="#00ff00" />
<rect x="399" y="524" width="3" height="24" fill="#00ff00" />
<rect x="407" y="525" width="3" height="23" fill="#00ff00" />
<rect x="415" y="527" width="3" height="21" fill="#00ff00" />
<rect x="423" y="530" width="3" height="18" fill="#00ff00" />
<rect x="431" y="533" width="3" height="15" fill="#00ff00" />
<rect x="439" y="536" width="3" height="12" fill="#00ff00" />
<rect x="447" y="537" width="3" height="11" fill="#00ff00" />
<rect x="455" y="543" width="3" height="5" fill="#00ff00" />
<rect x="463" y="548" width="3" height="1" fill="#00ff00" />
<rect x="471" y="548" width="3" height="6" fill="#00ff00" />
<rect x="479" y="548" width="3" height="9" fill="#00ff00" />
<rect x="487" y="548" width="3" height="9" fill="#00ff00" />
<rect x="495" y="548" width="3" height="10" fill="#00ff00" />
<rect x="503" y="548" width="3" height="10" fill="#00ff00" />
<rect x="511" y="548" width="3" height="9" fill="#00ff00" />
<rect x="519" y="548" width="3" height="11" fill="#00ff00" />
<rect x="527" y="548" width="3" height="14" fill="#00ff00" />
<rect x="535" y="548" width="3" height="14" fill="#00ff00" />
<rect x="543" y="548" width="3" height="17" fill="#00ff00" />
<rect x="551" y="548" width="3" height="21" fill="#00ff00" />
<rect x="559" y="548" width="3" height="24" fill="#00ff00" />
<rect x="567" y="548" width="3" height="26" fill="#00ff00" />
<rect x="575" y="548" width="3" height="27" fill="#00ff00" />
<rect x="583" y="548" width="3" height="31" fill="#00ff00" />
<rect x="591" y="548" width="3" height="37" fill="#00ff00" />
<rect x="599" y="548" width="3" height="37" fill="#00ff00" />
<rect x="607" y="548" width="3" height="40" fill="#00ff00" />
<rect x="615" y="548" width="3" height="41" fill="#00ff00" />
<rect x="623" y="548" width="3" height="43" fill="#00ff00" />
<rect x="631" y="548" width="3" height="41" fill="#00ff00" />
<rect x="639" y="548" width="3" height="40" fill="#00ff00" />
<rect x="647" y="548" width="3" height="34" fill="#00ff00" />
<rect x="655" y="548" width="3" height="27" fill="#00ff00" />
<rect x="663" y="548" width="3" height="20" fill="#00ff00" />
<rect x="671" y="548" width="3" height="14" fill="#00ff00" />
<rect x="679" y="548" width="3" height="13" fill="#00ff00" />
<rect x="687" y="548" width="3" height="10" fill="#00ff00" />
<rect x="695" y="548" width="3" height="7" fill="#00ff00" />
<rect x="703" y="548" width="3" height="7" fill="#00ff00" />
<rect x="711" y="548" width="3" height="13" fill="#00ff00" />
<rect x="719" y="548" width="3" height="17" fill="#00ff00" />
<rect x="727" y="548" width="3" height="24" fill="#00ff00" />
<rect x="735" y="548" width="3" height="29" fill="#00ff00" />
<rect x="743" y="548" width="3" height="29" fill="#00ff00" />
<rect x="751" y="548" width="3" height="29" fill="#00ff00" />
<rect x="759" y="548" width="3" height="31" fill="#00ff00" />
<rect x="767" y="548" width="3" height="34" fill="#00ff00" />
<rect x="775" y="548" width="3" height="34" fill="#00ff00" />
<rect x="783" y="548" width="3" height="31" fill="#00ff00" />
<rect x="791" y="548" width="3" height="29" fill="#00ff00" />
<rect x="799" y="548" width="3" height="27" fill="#00ff00" />
<rect x="807" y="548" width="3" height="21" fill="#00ff00" />
<rect x="815" y="548" width="3" height="14" fill="#00ff00" />
<rect x="823" y="548" width="3" height="10" fill="#00ff00" />
<rect x="831" y="548" width="3" height="6" fill="#00ff00" />
<rect x="839" y="548" width="3" height="6" fill="#00ff00" />
<rect x="847" y="548" width="3" height="6" fill="#00ff00" />
<rect x="855" y="548" width="3" height="4" fill="#00ff00" />
<rect x="863" y="547" width="3" height="1" fill="#00ff00" />
<rect x="871" y="547" width="3" height="1" fill="#00ff00" />
<rect x="879" y="546" width="3" height="2" fill="#00ff00" />
<rect x="887" y="547" width="3" height="1" fill="#00ff00" />
<rect x="895" y="548" width="3" height="1" fill="#00ff00" />
<rect x="903" y="547" width="3" height="1" fill="#00ff00" />
<rect x="911" y="548" width="3" height="1" fill="#00ff00" />
<rect x="919" y="548" width="3" height="1" fill="#00ff00" />
<rect x="927" y="548" width="3" height="3" fill="#00ff00" />
<rect x="935" y="548" width="3" height="1" fill="#00ff00" />
<rect x="943" y="545" width="3" height="3" fill="#00ff00" />
<rect x="951" y="540" width="3" height="8" fill="#00ff00" />
<rect x="959" y="536" width="3" height="12" fill="#00ff00" />
<rect x="967" y="532" width="3" height="16" fill="#00ff00" />
<rect x="975" y="527" width="3" height="21" fill="#00ff00" />
<rect x="983" y="525" width="3" height="23" fill="#00ff00" />
<rect x="991" y="524" width="3" height="24" fill="#00ff00" />
<rect x="999" y="526" width="3" height="22" fill="#00ff00" />
<rect x="1007" y="527" width="3" height="21" fill="#00ff00" />
<rect x="1015" y="526" width="3" height="22" fill="#00ff00" />
<rect x="1023" y="522" width="3" height="26" fill="#00ff00" />
<rect x="1031" y="520" width="3" height="28" fill="#00ff00" />
<rect x="1039" y="520" width="3" height="28" fill="#00ff00" />
<rect x="1047" y="517" width="3" height="31" fill="#00ff00" />
<rect x="1055" y="514" width="3" height="34" fill="#00ff00" />
<rect x="1063" y="513" width="3" height="35" fill="#00ff00" />
<rect x="1071" y="512" width="3" height="36" fill="#00ff00" />
<rect x="1079" y="513" width="3" height="35" fill="#00ff00" />
<rect x="1087" y="514" width="3" height="34" fill="#00ff00" />
<rect x="1095" y="520" width="3" height="28" fill="#00ff00" />
<rect x="1103" y="526" width="3" height="22" fill="#00ff00" />
<rect x="1111" y="532" width="3" height="16" fill="#00ff00" />
<rect x="1119" y="536" width="3" height="12" fill="#00ff00" />
<rect x="1127" y="537" width="3" height="11" fill="#00ff00" />
<rect x="1135" y="538" width="3" height="10" fill="#00ff00" />
<rect x="1143" y="539" width="3" height="9" fill="#00ff00" />
<rect x="1151" y="544" width="3" height="4" fill="#00ff00" />
<rect x="1159" y="546" width="3" height="2" fill="#00ff00" />
<rect x="1167" y="547" width="3" height="1" fill="#00ff00" />
<rect x="1175" y="547" width="3" height="1" fill="#00ff00" />
<rect x="1183" y="547" width="3" height="1" fill="#00ff00" />
<rect x="1191" y="544" width="3" height="4" fill="#00ff00" />
<rect x="1199" y="542" width="3" height="6" fill="#00ff00" />
<rect x="1207" y="542" width="3" height="6" fill="#00ff00" />
<rect x="1215" y="545" width="3" height="3" fill="#00ff00" />
<rect x="1223" y="546" width="3" height="2" fill="#00ff00" />
<rect x="1231" y="546" width="3" height="2" fill="#00ff00" />
<rect x="1239" y="542" width="3" height="6" fill="#00ff00" />
<rect x="1247" y="539" width="3" height="9" fill="#00ff00" />
<rect x="1255" y="532" width="3" height="16" fill="#00ff00" />
<rect x="1263" y="527" width="3" height="21" fill="#00ff00" />
<rect x="1271" y="526" width="3" height="22" fill="#00ff00" />
<rect x="1279" y="523" width="3" height="25" fill="#00ff00" />
<rect x="1287" y="522" width="3" height="26" fill="#00ff00" />
<rect x="1295" y="523" width="3" height="25" fill="#00ff00" />
<rect x="1303" y="524" width="3" height="24" fill="#00ff00" />
<rect x="1311" y="526" width="3" height="22" fill="#00ff00" />
<rect x="1319" y="529" width="3" height="19" fill="#00ff00" />
<rect x="1327" y="530" width="3" height="18" fill="#00ff00" />
</g>
<g clip-path="url(#c2)">
<polyline points="0.0,578.1 13.5,584.9 27.0,590.0 40.5,593.5 54.1,596.2 71.6,597.9 81.1,601.1 94.6,605.7 108.1,611.1 121.6,616.5 129.7,619.2 145.9,622.5 156.8,624.1 167.6,626.8 178.4,629.5 189.2,631.6 200.0,631.9 210.8,630.0 221.6,624.6 232.4,617.3 240.5,609.8 248.6,598.9 256.8,586.8 264.9,577.3 273.0,567.9 283.8,558.4 294.6,550.3 305.4,543.5 316.2,538.1 327.0,534.6 337.8,531.9 351.4,530.8 364.9,530.0 383.8,529.5 397.3,527.9 413.5,527.3 424.3,527.6 437.8,529.5 440.0,529.2 456.2,530.8 472.4,536.8 488.6,544.1 504.9,550.3 521.1,554.4 537.3,558.4 558.9,561.9 575.1,566.0 591.4,571.1 607.6,576.5 623.8,581.4 640.0,585.4 656.2,585.4 672.4,581.9 688.6,575.4 704.9,567.9 715.7,563.5 723.8,561.4 742.7,563.8 758.9,567.9 775.1,573.8 791.4,577.3 807.6,577.3 823.8,574.1 840.0,568.7 856.2,562.5 872.4,555.7 883.2,551.6 896.2,549.8 912.4,548.1 928.6,547.6 944.9,547.1 958.4,545.4 969.2,544.1 980.0,540.8 990.8,536.8 1001.6,534.1 1012.4,530.8 1023.2,527.9 1034.1,525.2 1044.9,523.8 1055.7,522.5 1066.5,520.0 1077.3,518.4 1088.1,516.5 1096.2,515.7 1104.3,516.0 1115.1,519.2 1125.9,522.7 1136.8,526.0 1147.6,530.0 1158.4,534.6 1169.2,538.7 1177.3,541.6 1188.1,543.0 1198.9,544.1 1217.8,544.9 1236.8,544.9 1253.0,543.0 1266.5,539.5 1280.0,536.2 1293.5,531.4 1304.3,528.7 1315.1,526.8 1328.6,525.7" fill="none" stroke="#ff0000" stroke-width="2" stroke-linejoin="round" shape-rendering="crispEdges"/>
</g>
<g shape-rendering="crispEdges">
<line x1="0" y1="687.5" x2="1618" y2="687.5" stroke="#000" stroke-width="1" stroke-dasharray="3,3"/>
<line x1="0" y1="732.5" x2="1618" y2="732.5" stroke="#000" stroke-width="1" stroke-dasharray="3,3"/>
<line x1="0" y1="785.5" x2="1618" y2="785.5" stroke="#000" stroke-width="1" stroke-dasharray="3,3"/>
</g>
<g clip-path="url(#c3)">
<polyline points="0.0,760.9 8.0,761.5 16.0,762.6 24.0,764.5 32.0,766.1 40.0,764.5 48.0,763.9 56.0,772.8 64.0,772.0 72.0,779.3 80.0,780.9 88.0,780.9 96.0,780.9 104.0,786.1 112.0,775.3 120.0,764.7 128.0,765.0 136.0,772.0 144.0,763.9 152.0,771.5 160.0,773.1 168.0,776.9 176.0,781.8 184.0,768.5 192.0,745.5 200.0,730.1 208.0,727.4 216.0,733.1 224.0,728.5 232.0,728.5 240.0,729.9 248.0,728.5 256.0,722.6 264.0,718.8 272.0,720.7 280.0,720.7 288.0,724.5 296.0,729.3 304.0,733.1 312.0,728.2 320.0,727.4 328.0,726.9 336.0,723.9 344.0,721.2 352.0,721.2 360.0,724.5 368.0,725.3 376.0,728.0 384.0,725.3 392.0,719.9 400.0,716.9 408.0,724.5 416.0,726.1 424.0,733.9 432.0,733.9 440.0,735.0 448.0,730.7 456.0,743.4 464.0,746.6 472.0,746.9 480.0,741.2 488.0,741.2 496.0,741.2 504.0,737.2 512.0,735.5 520.0,745.5 528.0,746.9 536.0,742.6 544.0,747.4 552.0,754.2 560.0,752.8 568.0,752.8 576.0,752.8 584.0,760.9 592.0,766.1 600.0,751.5 608.0,756.6 616.0,758.0 624.0,758.0 632.0,750.9 640.0,747.4 648.0,737.7 656.0,726.9 664.0,726.6 672.0,728.0 680.0,733.4 688.0,733.9 696.0,729.3 704.0,736.1 712.0,750.4 720.0,750.9 728.0,760.1 736.0,755.5 744.0,745.8 752.0,747.2 760.0,750.9 768.0,756.4 776.0,743.9 784.0,742.6 792.0,742.6 800.0,738.5 808.0,729.3 816.0,724.7 824.0,729.1 832.0,726.6 840.0,735.5 848.0,736.9 856.0,728.2 864.0,724.7 872.0,731.8 880.0,729.6 888.0,734.5 896.0,734.7 904.0,732.8 912.0,734.7 920.0,735.0 928.0,736.9 936.0,726.1 944.0,724.7 952.0,717.2 960.0,716.6 968.0,715.0 976.0,708.8 984.0,716.6 992.0,717.2 1000.0,726.1 1008.0,723.4 1016.0,718.5 1024.0,710.7 1032.0,713.1 1040.0,717.2 1048.0,710.1 1056.0,709.1 1064.0,709.1 1072.0,711.2 1080.0,713.1 1088.0,713.9 1096.0,734.5 1104.0,738.0 1112.0,741.2 1120.0,737.7 1128.0,728.5 1136.0,728.8 1144.0,732.0 1152.0,741.2 1160.0,737.4 1168.0,734.5 1176.0,733.6 1184.0,731.8 1192.0,723.1 1200.0,721.5 1208.0,728.5 1216.0,735.8 1224.0,732.3 1232.0,729.3 1240.0,721.2 1248.0,719.3 1256.0,705.5 1264.0,710.7 1272.0,719.3 1280.0,712.6 1288.0,720.7 1296.0,723.9 1304.0,723.9 1312.0,727.4 1320.0,727.7 1328.0,726.6" fill="none" stroke="#1e90ff" stroke-width="2" stroke-linejoin="round" shape-rendering="crispEdges"/>
</g>
<g shape-rendering="crispEdges">
<rect x="0" y="25" width="1619" height="1" fill="#000" />
<rect x="1618" y="25" width="1" height="478" fill="#000" />
<rect x="1618" y="504" width="1" height="151" fill="#000" />
<rect x="1618" y="656" width="1" height="153" fill="#000" />
<rect x="1619" y="505" width="1" height="1" fill="#000" />
<rect x="1619" y="548" width="1" height="1" fill="#000" />
<rect x="1619" y="653" width="1" height="1" fill="#000" />
<rect x="1619" y="657" width="1" height="1" fill="#000" />
<rect x="0" y="502" width="1619" height="1" fill="#000" />
<rect x="0" y="504" width="1619" height="1" fill="#000" />
<rect x="0" y="654" width="1619" height="1" fill="#000" />
<rect x="0" y="656" width="1619" height="1" fill="#000" />
<rect x="0" y="808" width="1619" height="1" fill="#000" />
<rect x="56" y="809" width="1" height="3" fill="#000" />
<rect x="120" y="809" width="1" height="3" fill="#000" />
<rect x="184" y="809" width="1" height="3" fill="#000" />
<rect x="248" y="809" width="1" height="3" fill="#000" />
<rect x="312" y="809" width="1" height="3" fill="#000" />
<rect x="376" y="809" width="1" height="3" fill="#000" />
<rect x="440" y="809" width="1" height="3" fill="#000" />
<rect x="504" y="809" width="1" height="3" fill="#000" />
<rect x="568" y="809" width="1" height="3" fill="#000" />
<rect x="632" y="809" width="1" height="3" fill="#000" />
<rect x="696" y="809" width="1" height="3" fill="#000" />
<rect x="760" y="809" width="1" height="3" fill="#000" />
<rect x="824" y="809" width="1" height="3" fill="#000" />
<rect x="888" y="809" width="1" height="3" fill="#000" />
<rect x="952" y="809" width="1" height="3" fill="#000" />
<rect x="1016" y="809" width="1" height="3" fill="#000" />
<rect x="1080" y="809" width="1" height="3" fill="#000" />
<rect x="1144" y="809" width="1" height="3" fill="#000" />
<rect x="1208" y="809" width="1" height="3" fill="#000" />
<rect x="1272" y="809" width="1" height="3" fill="#000" />
<rect x="1619" y="37" width="2" height="1" fill="#000" />
<rect x="1619" y="70" width="2" height="1" fill="#000" />
<rect x="1619" y="103" width="2" height="1" fill="#000" />
<rect x="1619" y="136" width="2" height="1" fill="#000" />
<rect x="1619" y="169" width="2" height="1" fill="#000" />
<rect x="1619" y="202" width="2" height="1" fill="#000" />
<rect x="1619" y="235" width="2" height="1" fill="#000" />
<rect x="1619" y="268" width="2" height="1" fill="#000" />
<rect x="1619" y="301" width="2" height="1" fill="#000" />
<rect x="1619" y="334" width="2" height="1" fill="#000" />
<rect x="1619" y="367" width="2" height="1" fill="#000" />
<rect x="1619" y="400" width="2" height="1" fill="#000" />
<rect x="1619" y="433" width="2" height="1" fill="#000" />
<rect x="1619" y="466" width="2" height="1" fill="#000" />
<rect x="1619" y="499" width="2" height="1" fill="#000" />
</g>
<polygon points="1335,26 1347,26 1341,32" fill="#000"/>
<text transform="translate(1624,40.5) scale(1,1.1)" font-family="Liberation Sans, sans-serif" font-size="9px" fill="#000" stroke="#000" stroke-width="0.18" text-anchor="start" textLength="33" lengthAdjust="spacingAndGlyphs" >22978.0</text>
<text transform="translate(1624,73.5) scale(1,1.1)" font-family="Liberation Sans, sans-serif" font-size="9px" fill="#000" stroke="#000" stroke-width="0.18" text-anchor="start" textLength="33" lengthAdjust="spacingAndGlyphs" >22628.0</text>
<text transform="translate(1624,106.5) scale(1,1.1)" font-family="Liberation Sans, sans-serif" font-size="9px" fill="#000" stroke="#000" stroke-width="0.18" text-anchor="start" textLength="33" lengthAdjust="spacingAndGlyphs" >22288.0</text>
<text transform="translate(1624,139.5) scale(1,1.1)" font-family="Liberation Sans, sans-serif" font-size="9px" fill="#000" stroke="#000" stroke-width="0.18" text-anchor="start" textLength="33" lengthAdjust="spacingAndGlyphs" >21948.0</text>
<text transform="translate(1624,172.5) scale(1,1.1)" font-family="Liberation Sans, sans-serif" font-size="9px" fill="#000" stroke="#000" stroke-width="0.18" text-anchor="start" textLength="33" lengthAdjust="spacingAndGlyphs" >21598.0</text>
<text transform="translate(1624,205.5) scale(1,1.1)" font-family="Liberation Sans, sans-serif" font-size="9px" fill="#000" stroke="#000" stroke-width="0.18" text-anchor="start" textLength="33" lengthAdjust="spacingAndGlyphs" >21258.0</text>
<text transform="translate(1624,238.5) scale(1,1.1)" font-family="Liberation Sans, sans-serif" font-size="9px" fill="#000" stroke="#000" stroke-width="0.18" text-anchor="start" textLength="33" lengthAdjust="spacingAndGlyphs" >20908.0</text>
<text transform="translate(1624,271.5) scale(1,1.1)" font-family="Liberation Sans, sans-serif" font-size="9px" fill="#000" stroke="#000" stroke-width="0.18" text-anchor="start" textLength="33" lengthAdjust="spacingAndGlyphs" >20558.0</text>
<text transform="translate(1624,304.5) scale(1,1.1)" font-family="Liberation Sans, sans-serif" font-size="9px" fill="#000" stroke="#000" stroke-width="0.18" text-anchor="start" textLength="33" lengthAdjust="spacingAndGlyphs" >20218.0</text>
<text transform="translate(1624,337.5) scale(1,1.1)" font-family="Liberation Sans, sans-serif" font-size="9px" fill="#000" stroke="#000" stroke-width="0.18" text-anchor="start" textLength="33" lengthAdjust="spacingAndGlyphs" >19868.0</text>
<text transform="translate(1624,370.5) scale(1,1.1)" font-family="Liberation Sans, sans-serif" font-size="9px" fill="#000" stroke="#000" stroke-width="0.18" text-anchor="start" textLength="33" lengthAdjust="spacingAndGlyphs" >19528.0</text>
<text transform="translate(1624,403.5) scale(1,1.1)" font-family="Liberation Sans, sans-serif" font-size="9px" fill="#000" stroke="#000" stroke-width="0.18" text-anchor="start" textLength="33" lengthAdjust="spacingAndGlyphs" >19178.0</text>
<text transform="translate(1624,436.5) scale(1,1.1)" font-family="Liberation Sans, sans-serif" font-size="9px" fill="#000" stroke="#000" stroke-width="0.18" text-anchor="start" textLength="33" lengthAdjust="spacingAndGlyphs" >18838.0</text>
<text transform="translate(1624,469.5) scale(1,1.1)" font-family="Liberation Sans, sans-serif" font-size="9px" fill="#000" stroke="#000" stroke-width="0.18" text-anchor="start" textLength="33" lengthAdjust="spacingAndGlyphs" >18488.0</text>
<text transform="translate(1624,502.5) scale(1,1.1)" font-family="Liberation Sans, sans-serif" font-size="9px" fill="#000" stroke="#000" stroke-width="0.18" text-anchor="start" textLength="33" lengthAdjust="spacingAndGlyphs" >18148.0</text>
<rect x="1620" y="69" width="41" height="11" fill="#ff0000" shape-rendering="crispEdges"/>
<text transform="translate(1624,77.5) scale(1,1.1)" font-family="Liberation Sans, sans-serif" font-size="9px" fill="#fff" stroke="#fff" stroke-width="0.18" text-anchor="start" textLength="33" lengthAdjust="spacingAndGlyphs" >22582.3</text>
<rect x="1620" y="95" width="41" height="11" fill="#ff0000" shape-rendering="crispEdges"/>
<text transform="translate(1624,103.5) scale(1,1.1)" font-family="Liberation Sans, sans-serif" font-size="9px" fill="#fff" stroke="#fff" stroke-width="0.18" text-anchor="start" textLength="33" lengthAdjust="spacingAndGlyphs" >22313.3</text>
<rect x="1620" y="127" width="41" height="11" fill="#ffa500" shape-rendering="crispEdges"/>
<text transform="translate(1624,135.5) scale(1,1.1)" font-family="Liberation Sans, sans-serif" font-size="9px" fill="#fff" stroke="#fff" stroke-width="0.18" text-anchor="start" textLength="33" lengthAdjust="spacingAndGlyphs" >21979.1</text>
<rect x="1620" y="147" width="41" height="11" fill="#000000" shape-rendering="crispEdges"/>
<text transform="translate(1624,155.5) scale(1,1.1)" font-family="Liberation Sans, sans-serif" font-size="9px" fill="#fff" stroke="#fff" stroke-width="0.18" text-anchor="start" textLength="33" lengthAdjust="spacingAndGlyphs" >21781.0</text>
<rect x="1620" y="176" width="41" height="11" fill="#0000ff" shape-rendering="crispEdges"/>
<text transform="translate(1624,184.5) scale(1,1.1)" font-family="Liberation Sans, sans-serif" font-size="9px" fill="#fff" stroke="#fff" stroke-width="0.18" text-anchor="start" textLength="33" lengthAdjust="spacingAndGlyphs" >21467.9</text>
<rect x="1620" y="206" width="41" height="11" fill="#0000ff" shape-rendering="crispEdges"/>
<text transform="translate(1624,214.5) scale(1,1.1)" font-family="Liberation Sans, sans-serif" font-size="9px" fill="#fff" stroke="#fff" stroke-width="0.18" text-anchor="start" textLength="33" lengthAdjust="spacingAndGlyphs" >21153.3</text>
<text transform="translate(1622,514.5) scale(1,1.1)" font-family="Liberation Sans, sans-serif" font-size="9px" fill="#000" stroke="#000" stroke-width="0.18" text-anchor="start" >440.4</text>
<text transform="translate(1622,551.5) scale(1,1.1)" font-family="Liberation Sans, sans-serif" font-size="9px" fill="#000" stroke="#000" stroke-width="0.18" text-anchor="start" >0.00</text>
<text transform="translate(1622,650.5) scale(1,1.1)" font-family="Liberation Sans, sans-serif" font-size="9px" fill="#000" stroke="#000" stroke-width="0.18" text-anchor="start" >-1102.21</text>
<text transform="translate(1622,666.5) scale(1,1.1)" font-family="Liberation Sans, sans-serif" font-size="9px" fill="#000" stroke="#000" stroke-width="0.18" text-anchor="start" >100</text>
<text transform="translate(1622,690.5) scale(1,1.1)" font-family="Liberation Sans, sans-serif" font-size="9px" fill="#000" stroke="#000" stroke-width="0.18" text-anchor="start" >80</text>
<text transform="translate(1622,735.5) scale(1,1.1)" font-family="Liberation Sans, sans-serif" font-size="9px" fill="#000" stroke="#000" stroke-width="0.18" text-anchor="start" >50</text>
<text transform="translate(1622,788.5) scale(1,1.1)" font-family="Liberation Sans, sans-serif" font-size="9px" fill="#000" stroke="#000" stroke-width="0.18" text-anchor="start" >15</text>
<text transform="translate(1622,804.5) scale(1,1.1)" font-family="Liberation Sans, sans-serif" font-size="9px" fill="#000" stroke="#000" stroke-width="0.18" text-anchor="start" >0</text>
<text transform="translate(7.3,37) scale(1,1.1)" font-family="Liberation Sans, sans-serif" font-size="9px" fill="#000" stroke="#000" stroke-width="0.18" text-anchor="start" textLength="188" lengthAdjust="spacingAndGlyphs" xml:space="preserve">HK50-,H4  21676.0 21843.0 21676.0 21781.0</text>
<polygon points="0,32 2.8,32 0.8,34.6 0,34.6" fill="#000"/>
<text transform="translate(-2.5,517) scale(1,1.1)" font-family="Liberation Sans, sans-serif" font-size="9px" fill="#000" stroke="#000" stroke-width="0.18" text-anchor="start" textLength="126.5" lengthAdjust="spacingAndGlyphs" >MACD(12,26,9) 186.26 230.32</text>
<text transform="translate(-3.5,669) scale(1,1.1)" font-family="Liberation Sans, sans-serif" font-size="9px" fill="#000" stroke="#000" stroke-width="0.18" text-anchor="start" textLength="67.5" lengthAdjust="spacingAndGlyphs" >RSI(15) 54.3226</text>
<text transform="translate(-8,820.5) scale(1,1.1)" font-family="Liberation Sans, sans-serif" font-size="9px" fill="#000" stroke="#000" stroke-width="0.18" text-anchor="start" >28 Feb 2022</text>
<text transform="translate(56,820.5) scale(1,1.1)" font-family="Liberation Sans, sans-serif" font-size="9px" fill="#000" stroke="#000" stroke-width="0.18" text-anchor="start" >4 Mar 01:15</text>
<text transform="translate(120,820.5) scale(1,1.1)" font-family="Liberation Sans, sans-serif" font-size="9px" fill="#000" stroke="#000" stroke-width="0.18" text-anchor="start" >10 Mar 01:15</text>
<text transform="translate(184,820.5) scale(1,1.1)" font-family="Liberation Sans, sans-serif" font-size="9px" fill="#000" stroke="#000" stroke-width="0.18" text-anchor="start" >16 Mar 01:15</text>
<text transform="translate(248,820.5) scale(1,1.1)" font-family="Liberation Sans, sans-serif" font-size="9px" fill="#000" stroke="#000" stroke-width="0.18" text-anchor="start" >22 Mar 01:15</text>
<text transform="translate(312,820.5) scale(1,1.1)" font-family="Liberation Sans, sans-serif" font-size="9px" fill="#000" stroke="#000" stroke-width="0.18" text-anchor="start" >28 Mar 01:15</text>
<text transform="translate(376,820.5) scale(1,1.1)" font-family="Liberation Sans, sans-serif" font-size="9px" fill="#000" stroke="#000" stroke-width="0.18" text-anchor="start" >1 Apr 01:15</text>
<text transform="translate(440,820.5) scale(1,1.1)" font-family="Liberation Sans, sans-serif" font-size="9px" fill="#000" stroke="#000" stroke-width="0.18" text-anchor="start" >8 Apr 01:15</text>
<text transform="translate(504,820.5) scale(1,1.1)" font-family="Liberation Sans, sans-serif" font-size="9px" fill="#000" stroke="#000" stroke-width="0.18" text-anchor="start" >14 Apr 01:15</text>
<text transform="translate(568,820.5) scale(1,1.1)" font-family="Liberation Sans, sans-serif" font-size="9px" fill="#000" stroke="#000" stroke-width="0.18" text-anchor="start" >22 Apr 01:15</text>
<text transform="translate(632,820.5) scale(1,1.1)" font-family="Liberation Sans, sans-serif" font-size="9px" fill="#000" stroke="#000" stroke-width="0.18" text-anchor="start" >28 Apr 01:15</text>
<text transform="translate(696,820.5) scale(1,1.1)" font-family="Liberation Sans, sans-serif" font-size="9px" fill="#000" stroke="#000" stroke-width="0.18" text-anchor="start" >5 May 01:15</text>
<text transform="translate(760,820.5) scale(1,1.1)" font-family="Liberation Sans, sans-serif" font-size="9px" fill="#000" stroke="#000" stroke-width="0.18" text-anchor="start" >12 May 01:15</text>
<text transform="translate(824,820.5) scale(1,1.1)" font-family="Liberation Sans, sans-serif" font-size="9px" fill="#000" stroke="#000" stroke-width="0.18" text-anchor="start" >18 May 01:15</text>
<text transform="translate(888,820.5) scale(1,1.1)" font-family="Liberation Sans, sans-serif" font-size="9px" fill="#000" stroke="#000" stroke-width="0.18" text-anchor="start" >24 May 01:15</text>
<text transform="translate(952,820.5) scale(1,1.1)" font-family="Liberation Sans, sans-serif" font-size="9px" fill="#000" stroke="#000" stroke-width="0.18" text-anchor="start" >30 May 01:15</text>
<text transform="translate(1016,820.5) scale(1,1.1)" font-family="Liberation Sans, sans-serif" font-size="9px" fill="#000" stroke="#000" stroke-width="0.18" text-anchor="start" >6 Jun 01:15</text>
<text transform="translate(1080,820.5) scale(1,1.1)" font-family="Liberation Sans, sans-serif" font-size="9px" fill="#000" stroke="#000" stroke-width="0.18" text-anchor="start" >10 Jun 01:15</text>
<text transform="translate(1144,820.5) scale(1,1.1)" font-family="Liberation Sans, sans-serif" font-size="9px" fill="#000" stroke="#000" stroke-width="0.18" text-anchor="start" >16 Jun 01:15</text>
<text transform="translate(1208,820.5) scale(1,1.1)" font-family="Liberation Sans, sans-serif" font-size="9px" fill="#000" stroke="#000" stroke-width="0.18" text-anchor="start" >22 Jun 01:15</text>
<text transform="translate(1272,820.5) scale(1,1.1)" font-family="Liberation Sans, sans-serif" font-size="9px" fill="#000" stroke="#000" stroke-width="0.18" text-anchor="start" >28 Jun 01:15</text>
<rect x="1664" y="23" width="1" height="799" fill="#ececec" />
</svg>
<svg width="1665" height="24" viewBox="0 0 1665 24" style="position:absolute;left:0;top:0">
<defs><linearGradient id="gy" x1="0" y1="0" x2="1" y2="1"><stop offset="0" stop-color="#fff3a0"/><stop offset="0.5" stop-color="#f0c030"/><stop offset="1" stop-color="#b07810"/></linearGradient><linearGradient id="gb" x1="0" y1="0" x2="0" y2="1"><stop offset="0" stop-color="#6ab4f0"/><stop offset="1" stop-color="#1a5fc0"/></linearGradient><radialGradient id="gl" cx="0.4" cy="0.35" r="0.7"><stop offset="0" stop-color="#ffffff"/><stop offset="1" stop-color="#a8d4f8"/></radialGradient><radialGradient id="gr" cx="0.4" cy="0.3" r="0.8"><stop offset="0" stop-color="#f0583c"/><stop offset="1" stop-color="#d02010"/></radialGradient><linearGradient id="gg" x1="0" y1="0" x2="0" y2="1"><stop offset="0" stop-color="#70d040"/><stop offset="1" stop-color="#208010"/></linearGradient><pattern id="hatch" width="2" height="2" patternUnits="userSpaceOnUse"><rect width="2" height="2" fill="#f0f0f0"/><rect width="1" height="1" fill="#ffffff"/><rect x="1" y="1" width="1" height="1" fill="#ffffff"/></pattern></defs>
<rect x="0" y="0" width="1665" height="20" fill="#f0f0f0"/>
<g shape-rendering="crispEdges">
<rect x="0" y="20" width="1665" height="1" fill="#ececec"/>
<rect x="0" y="21" width="1665" height="1" fill="#b0b0b0"/>
<rect x="0" y="22" width="1665" height="1" fill="#6c6c6c"/>
<rect x="0" y="23" width="1665" height="1" fill="#ffffff"/>
<rect x="254" y="0" width="25" height="19" fill="url(#hatch)"/>
<rect x="406" y="0" width="25" height="19" fill="url(#hatch)"/>
<rect x="434" y="0" width="25" height="19" fill="url(#hatch)"/>
<rect x="594" y="0" width="24" height="19" fill="url(#hatch)"/>
<rect x="1040" y="0" width="24" height="19" fill="url(#hatch)"/>
<rect x="49" y="0" width="1" height="20" fill="#a4a4a4"/><rect x="50" y="0" width="1" height="20" fill="#f8f8f8"/><rect x="0" y="19" width="50" height="1" fill="#a4a4a4"/>
<rect x="0" y="3" width="1" height="14" fill="#c8c8c8"/><rect x="0" y="10" width="4" height="4" fill="#00dc00"/><rect x="0" y="13" width="4" height="1" fill="#00b400"/>
<rect x="215" y="0" width="1" height="21" fill="#9a9a9a"/><rect x="216" y="0" width="1" height="21" fill="#ffffff"/>
<rect x="219" y="1" width="3" height="1" fill="#b0b0b0"/>
<rect x="219" y="3" width="3" height="1" fill="#b0b0b0"/>
<rect x="219" y="5" width="3" height="1" fill="#b0b0b0"/>
<rect x="219" y="7" width="3" height="1" fill="#b0b0b0"/>
<rect x="219" y="9" width="3" height="1" fill="#b0b0b0"/>
<rect x="219" y="11" width="3" height="1" fill="#b0b0b0"/>
<rect x="219" y="13" width="3" height="1" fill="#b0b0b0"/>
<rect x="219" y="15" width="3" height="1" fill="#b0b0b0"/>
<rect x="219" y="17" width="3" height="1" fill="#b0b0b0"/>
<rect x="253" y="1" width="1" height="18" fill="#b4b4b4"/>
<rect x="310" y="1" width="1" height="18" fill="#b4b4b4"/>
<rect x="400" y="1" width="1" height="18" fill="#b4b4b4"/>
<rect x="405" y="1" width="1" height="18" fill="#b4b4b4"/>
<rect x="433" y="1" width="1" height="18" fill="#b4b4b4"/>
<rect x="462" y="1" width="1" height="18" fill="#b4b4b4"/>
<rect x="583" y="0" width="1" height="21" fill="#9a9a9a"/><rect x="584" y="0" width="1" height="21" fill="#ffffff"/>
<rect x="587" y="1" width="3" height="1" fill="#b0b0b0"/>
<rect x="587" y="3" width="3" height="1" fill="#b0b0b0"/>
<rect x="587" y="5" width="3" height="1" fill="#b0b0b0"/>
<rect x="587" y="7" width="3" height="1" fill="#b0b0b0"/>
<rect x="587" y="9" width="3" height="1" fill="#b0b0b0"/>
<rect x="587" y="11" width="3" height="1" fill="#b0b0b0"/>
<rect x="587" y="13" width="3" height="1" fill="#b0b0b0"/>
<rect x="587" y="15" width="3" height="1" fill="#b0b0b0"/>
<rect x="587" y="17" width="3" height="1" fill="#b0b0b0"/>
<rect x="593" y="1" width="1" height="18" fill="#b4b4b4"/>
<rect x="650" y="1" width="1" height="18" fill="#b4b4b4"/>
<rect x="889" y="0" width="1" height="21" fill="#9a9a9a"/><rect x="890" y="0" width="1" height="21" fill="#ffffff"/>
<rect x="892" y="1" width="3" height="1" fill="#b0b0b0"/>
<rect x="892" y="3" width="3" height="1" fill="#b0b0b0"/>
<rect x="892" y="5" width="3" height="1" fill="#b0b0b0"/>
<rect x="892" y="7" width="3" height="1" fill="#b0b0b0"/>
<rect x="892" y="9" width="3" height="1" fill="#b0b0b0"/>
<rect x="892" y="11" width="3" height="1" fill="#b0b0b0"/>
<rect x="892" y="13" width="3" height="1" fill="#b0b0b0"/>
<rect x="892" y="15" width="3" height="1" fill="#b0b0b0"/>
<rect x="892" y="17" width="3" height="1" fill="#b0b0b0"/>
<rect x="1039" y="1" width="1" height="18" fill="#b4b4b4"/>
<rect x="1150" y="1" width="1" height="18" fill="#b4b4b4"/>
</g>
<text x="6.6" y="11.1" style='font-family:"Liberation Sans","Noto Sans CJK SC",sans-serif' font-size="12.1px" fill="#000" stroke="#000" stroke-width="0.3" textLength="36.3" lengthAdjust="spacingAndGlyphs">新订单</text>
<text x="160.2" y="12" style='font-family:"Liberation Sans","Noto Sans CJK SC",sans-serif' font-size="11.85px" fill="#000" stroke="#000" stroke-width="0.3" textLength="47.4" lengthAdjust="spacingAndGlyphs">自动交易</text>
<path d="M56,11.6 L64,17.4 L71.8,10.6 L71.8,9.4 L64,16 L56,10.4 Z" fill="#b07818"/>
<path d="M56,10.5 Q58,6 61.6,2.4 L71.6,9.6 L64,16.2 Z" fill="url(#gy)" stroke="#a87010" stroke-width="0.7" stroke-linejoin="round"/>
<path d="M60.2,5.2 L68.5,11.2" stroke="#fff6c0" stroke-width="1.6" opacity="0.55" fill="none"/>
<path d="M86.2,2.2 L89.6,1.2 L96.8,2 V11 H86.2 Z" fill="#2a8cf0"/><path d="M86.2,2.2 L89.6,1.2 V11 H86.2 Z" fill="#58b8ff"/>
<rect x="91" y="5.4" width="4.6" height="0.9" fill="#e8f4ff"/><rect x="91" y="7.3" width="4.6" height="0.8" fill="#b8dcff"/>
<defs><linearGradient id="gc" x1="0" y1="0" x2="0" y2="1"><stop offset="0" stop-color="#ffffff"/><stop offset="1" stop-color="#c4d0e6"/></linearGradient></defs>
<path d="M86.6,16.4 a2.7,2.7 0 0 1 -0.2,-5.3 a3.3,3.3 0 0 1 5.6,-1.6 a3,3 0 0 1 5,1.4 a2.8,2.8 0 0 1 0.4,5.5 Z" fill="url(#gc)" stroke="#5474b4" stroke-width="0.9"/>
<g fill="none" stroke-width="1.1"><circle cx="120" cy="8.6" r="7.3" stroke="#a4b8e0"/><circle cx="120" cy="8.6" r="5.2" stroke="#7a98dc"/><circle cx="120" cy="8.6" r="3.1" stroke="#5078d4"/></g>
<path d="M120,8.6 L120,16.4 A7.8,7.8 0 0 0 124.5,2.2 Z" fill="#58a858" opacity="0.5"/>
<circle cx="119.7" cy="8.3" r="1.7" fill="#2850c8"/>
<rect x="119.5" y="9" width="1.6" height="7.6" fill="#22b022"/>
<defs><linearGradient id="gf" x1="0" y1="0" x2="1" y2="1"><stop offset="0" stop-color="#fff0a0"/><stop offset="1" stop-color="#e8a818"/></linearGradient></defs>
<path d="M140,8 L154.4,8 L148.6,16.6 L145.6,16.6 Z" fill="url(#gf)" stroke="#c89818" stroke-width="0.5"/>
<ellipse cx="147" cy="5.9" rx="7.9" ry="2.7" fill="#4c94dc" stroke="#2c6cb8" stroke-width="0.5"/><ellipse cx="146.8" cy="3.6" rx="3.9" ry="2.6" fill="#7cbcf0"/><path d="M143,5 Q147,7 150.6,5" stroke="#2c6cb8" stroke-width="0.5" fill="none"/>
<circle cx="151.4" cy="12.6" r="4" fill="url(#gr)"/><rect x="149.9" y="11.1" width="3" height="3" fill="#fff"/>
<g stroke="#555555" stroke-width="1.1" fill="none"><path d="M233.5,3.5 V16.5 M231,14.5 H244"/></g>
<path d="M233.5,2.5 l-1.8,2.5 h3.6 Z M245.5,14.5 l-2.5,-1.8 v3.6 Z" fill="#555555"/>
<path d="M239.5,4.5 V12.5 M239.5,5.5 H242 M237.5,11.5 H239.5" stroke="#208020" stroke-width="1.3" fill="none"/>
<g stroke="#555555" stroke-width="1.1" fill="none"><path d="M261.5,3.5 V16.5 M259,14.5 H272"/></g>
<path d="M261.5,2.5 l-1.8,2.5 h3.6 Z M273.5,14.5 l-2.5,-1.8 v3.6 Z" fill="#555555"/>
<path d="M267.5,1.5 V12.5" stroke="#208020" stroke-width="1"/><rect x="265.5" y="3.5" width="4" height="7" fill="#30d040" stroke="#208020" stroke-width="0.8"/>
<g stroke="#555555" stroke-width="1.1" fill="none"><path d="M289.5,3.5 V16.5 M287,14.5 H300"/></g>
<path d="M289.5,2.5 l-1.8,2.5 h3.6 Z M301.5,14.5 l-2.5,-1.8 v3.6 Z" fill="#555555"/>
<path d="M289,11.5 Q293,4 295.5,6 T300,10.5" stroke="#208020" stroke-width="1.2" fill="none"/>
<path d="M329,10.7 L333.7,15.2" stroke="#a07808" stroke-width="3.4" stroke-linecap="round"/>
<path d="M329,10.7 L333.7,15.2" stroke="#f0cc30" stroke-width="2" stroke-linecap="round"/>
<circle cx="325.06" cy="6.6" r="5.2" fill="url(#gl)" stroke="#2a78c8" stroke-width="1.3"/>
<path d="M322.2,6.6 H327.9" stroke="#3a86b8" stroke-width="1.8"/>
<path d="M325.06,3.7 V9.5" stroke="#3a86b8" stroke-width="1.8"/>
<path d="M357,10.7 L361.7,15.2" stroke="#a07808" stroke-width="3.4" stroke-linecap="round"/>
<path d="M357,10.7 L361.7,15.2" stroke="#f0cc30" stroke-width="2" stroke-linecap="round"/>
<circle cx="353.06" cy="6.6" r="5.2" fill="url(#gl)" stroke="#2a78c8" stroke-width="1.3"/>
<path d="M350.2,6.6 H355.9" stroke="#3a86b8" stroke-width="1.8"/>
<rect x="375" y="1" width="7.9" height="7.9" fill="#3aa018"/><rect x="376.3" y="4.6" width="5.3" height="3.3" fill="#ffffff"/><rect x="377.2" y="5.7" width="3.5" height="0.7" fill="#8cd070"/><rect x="376.2" y="2.3" width="0.9" height="0.8" fill="#e8f0ff"/>
<rect x="383" y="1" width="7.9" height="7.9" fill="#2050c8"/><rect x="384.3" y="4.6" width="5.3" height="3.3" fill="#ffffff"/><rect x="385.2" y="5.7" width="3.5" height="0.7" fill="#88a8f0"/><rect x="384.2" y="2.3" width="0.9" height="0.8" fill="#e8f0ff"/>
<rect x="375" y="9" width="7.9" height="7.9" fill="#2050c8"/><rect x="376.3" y="12.6" width="5.3" height="3.3" fill="#ffffff"/><rect x="377.2" y="13.7" width="3.5" height="0.7" fill="#88a8f0"/><rect x="376.2" y="10.3" width="0.9" height="0.8" fill="#e8f0ff"/>
<rect x="383" y="9" width="7.9" height="7.9" fill="#3aa018"/><rect x="384.3" y="12.6" width="5.3" height="3.3" fill="#ffffff"/><rect x="385.2" y="13.7" width="3.5" height="0.7" fill="#8cd070"/><rect x="384.2" y="10.3" width="0.9" height="0.8" fill="#e8f0ff"/>
<g stroke="#555555" stroke-width="1.1" fill="none"><path d="M413.5,3.5 V16.5 M411,14.5 H424"/></g>
<path d="M413.5,2.5 l-1.8,2.5 h3.6 Z M425.5,14.5 l-2.5,-1.8 v3.6 Z" fill="#555555"/>
<path d="M418.6,5.6 L421.6,8.5 L418.6,11.4 Z" fill="#98e498" stroke="#22a422" stroke-width="1.3" stroke-linejoin="miter"/>
<g stroke="#555555" stroke-width="1.1" fill="none"><path d="M441.5,3.5 V16.5 M439,14.5 H452"/></g>
<path d="M441.5,2.5 l-1.8,2.5 h3.6 Z M453.5,14.5 l-2.5,-1.8 v3.6 Z" fill="#555555"/>
<path d="M447.4,3 V13" stroke="#1a6aaa" stroke-width="1.3"/><path d="M448.3,8.5 L451,6.6 L450.3,8.5 L451,10.4 Z M450,8.5 H453" fill="#e05000" stroke="#e05000" stroke-width="0.8"/>
<path d="M473,2 H480 L483,5 V14 H473 Z" fill="#f8f8f8" stroke="#909090" stroke-width="0.9"/><path d="M476,4.5 V10 M476,5.5 H478 M474.8,8.5 H476" stroke="#707070" stroke-width="0.8" fill="none"/>
<path d="M480,7.5 H483.5 V11 H487.5 V14.5 H483.5 V18 H480 V14.5 H476.5 V11 H480 Z" fill="#30c020" stroke="#189010" stroke-width="0.7"/>
<path d="M494,8 H499.5 L496.75,11 Z" fill="#000"/>
<defs><linearGradient id="gk" x1="0" y1="0" x2="1" y2="1"><stop offset="0" stop-color="#40a0f8"/><stop offset="1" stop-color="#0a3488"/></linearGradient></defs>
<circle cx="518" cy="8.8" r="8" fill="url(#gk)"/><circle cx="518" cy="8.8" r="5.6" fill="#e6eef8"/><path d="M518,5.4 V9 H521" stroke="#202020" stroke-width="1" fill="none"/><path d="M518,4 v0.9 M518,12.7 v0.9 M513.2,8.8 h0.9 M521.9,8.8 h0.9" stroke="#7890b8" stroke-width="0.7"/>
<path d="M533,8 H538.5 L535.75,11 Z" fill="#000"/>
<rect x="550" y="15" width="15.5" height="1.6" fill="#c8c8c8" opacity="0.7"/>
<rect x="549.8" y="2.6" width="14.6" height="12.8" fill="#ffffff" stroke="#2a6ac0" stroke-width="1.2"/><rect x="549.2" y="2" width="15.8" height="2.6" fill="#4a8ce0"/><rect x="550.5" y="2.6" width="13" height="0.8" fill="#9cc8f8"/>
<path d="M550,10.2 H564.5" stroke="#6a8cc0" stroke-width="0.8"/>
<path d="M551.5,8.4 l1.5,0 l1.5,-1.3 l1.5,-0.6 l1.3,1 l1.6,0 l1.5,-1.2 l1.6,0.2" stroke="#a02000" stroke-width="1.1" fill="none"/><path d="M552,13.8 l1.6,-0.7 l1.6,0.6 l1.6,0 l1.8,-2 l1.2,0.4 l1.6,1.7" stroke="#108020" stroke-width="1.1" fill="none"/>
<path d="M572,8 H577.5 L574.75,11 Z" fill="#000"/>
<path d="M601,2.3 V12.6 L603.5,10.4 L606,15.9 L608,15 L605.6,9.6 L609.2,9.5 Z" fill="#505050"/>
<path d="M633.5,2 V17 M626,9.5 H641" stroke="#555555" stroke-width="1" shape-rendering="crispEdges"/><rect x="632" y="8" width="3" height="3" fill="#f0f0f0"/>
<rect x="667" y="3" width="1.4" height="13.5" fill="#555555"/>
<rect x="690" y="8.8" width="12.5" height="1.3" fill="#555555"/>
<path d="M718,16 L730,4" stroke="#555555" stroke-width="1.2"/>
<g stroke="#4a4a4a" fill="none"><path d="M743.8,10.2 L757.3,1.4 M745.7,15.4 L757.8,7" stroke-width="1"/><path d="M747.3,6.6 L746.6,14.6 M750.3,4.6 L749.6,12.6 M753.3,2.4 L752.6,10.6 M756.3,0.6 L755.6,8.4" stroke-width="0.9"/></g>
<text x="754.8" y="17.7" font-family="Liberation Sans, sans-serif" font-size="6.6px" font-weight="bold" fill="#404040">E</text>
<rect x="773" y="2" width="1" height="1" fill="#6a6a6a" shape-rendering="crispEdges"/>
<rect x="775" y="2" width="1" height="1" fill="#6a6a6a" shape-rendering="crispEdges"/>
<rect x="777" y="2" width="1" height="1" fill="#6a6a6a" shape-rendering="crispEdges"/>
<rect x="779" y="2" width="1" height="1" fill="#6a6a6a" shape-rendering="crispEdges"/>
<rect x="781" y="2" width="1" height="1" fill="#6a6a6a" shape-rendering="crispEdges"/>
<rect x="783" y="2" width="1" height="1" fill="#6a6a6a" shape-rendering="crispEdges"/>
<rect x="785" y="2" width="1" height="1" fill="#6a6a6a" shape-rendering="crispEdges"/>
<rect x="773" y="4" width="1" height="1" fill="#6a6a6a" shape-rendering="crispEdges"/>
<rect x="775" y="4" width="1" height="1" fill="#6a6a6a" shape-rendering="crispEdges"/>
<rect x="777" y="4" width="1" height="1" fill="#6a6a6a" shape-rendering="crispEdges"/>
<rect x="779" y="4" width="1" height="1" fill="#6a6a6a" shape-rendering="crispEdges"/>
<rect x="781" y="4" width="1" height="1" fill="#6a6a6a" shape-rendering="crispEdges"/>
<rect x="783" y="4" width="1" height="1" fill="#6a6a6a" shape-rendering="crispEdges"/>
<rect x="785" y="4" width="1" height="1" fill="#6a6a6a" shape-rendering="crispEdges"/>
<rect x="773" y="7" width="1" height="1" fill="#6a6a6a" shape-rendering="crispEdges"/>
<rect x="775" y="7" width="1" height="1" fill="#6a6a6a" shape-rendering="crispEdges"/>
<rect x="777" y="7" width="1" height="1" fill="#6a6a6a" shape-rendering="crispEdges"/>
<rect x="779" y="7" width="1" height="1" fill="#6a6a6a" shape-rendering="crispEdges"/>
<rect x="781" y="7" width="1" height="1" fill="#6a6a6a" shape-rendering="crispEdges"/>
<rect x="783" y="7" width="1" height="1" fill="#6a6a6a" shape-rendering="crispEdges"/>
<rect x="785" y="7" width="1" height="1" fill="#6a6a6a" shape-rendering="crispEdges"/>
<rect x="773" y="9" width="1" height="1" fill="#6a6a6a" shape-rendering="crispEdges"/>
<rect x="775" y="9" width="1" height="1" fill="#6a6a6a" shape-rendering="crispEdges"/>
<rect x="777" y="9" width="1" height="1" fill="#6a6a6a" shape-rendering="crispEdges"/>
<rect x="779" y="9" width="1" height="1" fill="#6a6a6a" shape-rendering="crispEdges"/>
<rect x="781" y="9" width="1" height="1" fill="#6a6a6a" shape-rendering="crispEdges"/>
<rect x="783" y="9" width="1" height="1" fill="#6a6a6a" shape-rendering="crispEdges"/>
<rect x="785" y="9" width="1" height="1" fill="#6a6a6a" shape-rendering="crispEdges"/>
<rect x="773" y="13" width="1" height="1" fill="#6a6a6a" shape-rendering="crispEdges"/>
<rect x="775" y="13" width="1" height="1" fill="#6a6a6a" shape-rendering="crispEdges"/>
<rect x="777" y="13" width="1" height="1" fill="#6a6a6a" shape-rendering="crispEdges"/>
<rect x="779" y="13" width="1" height="1" fill="#6a6a6a" shape-rendering="crispEdges"/>
<rect x="781" y="13" width="1" height="1" fill="#6a6a6a" shape-rendering="crispEdges"/>
<rect x="783" y="13" width="1" height="1" fill="#6a6a6a" shape-rendering="crispEdges"/>
<rect x="785" y="13" width="1" height="1" fill="#6a6a6a" shape-rendering="crispEdges"/>
<rect x="782" y="12" width="6" height="7" fill="#f0f0f0"/>
<text x="782.8" y="17.7" font-family="Liberation Sans, sans-serif" font-size="6.6px" font-weight="bold" fill="#404040">F</text>
<text x="803.7" y="14" font-family="Liberation Sans, sans-serif" font-size="12.4px" fill="#555" stroke="#555" stroke-width="0.35">A</text>
<rect x="830" y="3" width="1" height="1" fill="#555" shape-rendering="crispEdges"/><rect x="830" y="15" width="1" height="1" fill="#555" shape-rendering="crispEdges"/>
<rect x="832" y="3" width="1" height="1" fill="#555" shape-rendering="crispEdges"/><rect x="832" y="15" width="1" height="1" fill="#555" shape-rendering="crispEdges"/>
<rect x="834" y="3" width="1" height="1" fill="#555" shape-rendering="crispEdges"/><rect x="834" y="15" width="1" height="1" fill="#555" shape-rendering="crispEdges"/>
<rect x="836" y="3" width="1" height="1" fill="#555" shape-rendering="crispEdges"/><rect x="836" y="15" width="1" height="1" fill="#555" shape-rendering="crispEdges"/>
<rect x="838" y="3" width="1" height="1" fill="#555" shape-rendering="crispEdges"/><rect x="838" y="15" width="1" height="1" fill="#555" shape-rendering="crispEdges"/>
<rect x="840" y="3" width="1" height="1" fill="#555" shape-rendering="crispEdges"/><rect x="840" y="15" width="1" height="1" fill="#555" shape-rendering="crispEdges"/>
<rect x="830" y="3" width="1" height="1" fill="#555" shape-rendering="crispEdges"/><rect x="841" y="3" width="1" height="1" fill="#555" shape-rendering="crispEdges"/>
<rect x="830" y="5" width="1" height="1" fill="#555" shape-rendering="crispEdges"/><rect x="841" y="5" width="1" height="1" fill="#555" shape-rendering="crispEdges"/>
<rect x="830" y="7" width="1" height="1" fill="#555" shape-rendering="crispEdges"/><rect x="841" y="7" width="1" height="1" fill="#555" shape-rendering="crispEdges"/>
<rect x="830" y="9" width="1" height="1" fill="#555" shape-rendering="crispEdges"/><rect x="841" y="9" width="1" height="1" fill="#555" shape-rendering="crispEdges"/>
<rect x="830" y="11" width="1" height="1" fill="#555" shape-rendering="crispEdges"/><rect x="841" y="11" width="1" height="1" fill="#555" shape-rendering="crispEdges"/>
<rect x="830" y="13" width="1" height="1" fill="#555" shape-rendering="crispEdges"/><rect x="841" y="13" width="1" height="1" fill="#555" shape-rendering="crispEdges"/>
<rect x="830" y="15" width="1" height="1" fill="#555" shape-rendering="crispEdges"/><rect x="841" y="15" width="1" height="1" fill="#555" shape-rendering="crispEdges"/>
<path d="M831.8,6.7 H839.7 M835.75,6.7 V14" stroke="#505050" stroke-width="1.8" fill="none"/>
<path d="M857,6.3 L860.5,3.2 L864,6.3 L860.5,9.4 Z" fill="#484848"/><path d="M864.4,13 L867.7,10.2 L871,13 L867.7,15.9 Z" fill="#484848"/><path d="M859.3,10.2 L861.2,12.3 L865.6,7.8" stroke="#484848" stroke-width="1.2" fill="none"/>
<path d="M878,8 H883.5 L880.75,11 Z" fill="#000"/>
<text x="904.4" y="12.5" font-family="Liberation Sans, sans-serif" font-size="9px" fill="#444444" textLength="12.9" lengthAdjust="spacingAndGlyphs">M1</text>
<text x="932.8" y="12.5" font-family="Liberation Sans, sans-serif" font-size="9px" fill="#444444" textLength="12.2" lengthAdjust="spacingAndGlyphs">M5</text>
<text x="958.5" y="12.5" font-family="Liberation Sans, sans-serif" font-size="9px" fill="#444444" textLength="17.5" lengthAdjust="spacingAndGlyphs">M15</text>
<text x="986.7" y="12.5" font-family="Liberation Sans, sans-serif" font-size="9px" fill="#444444" textLength="17.3" lengthAdjust="spacingAndGlyphs">M30</text>
<text x="1017.4" y="12.5" font-family="Liberation Sans, sans-serif" font-size="9px" fill="#444444" textLength="11.9" lengthAdjust="spacingAndGlyphs">H1</text>
<text x="1044.6" y="12.5" font-family="Liberation Sans, sans-serif" font-size="9px" fill="#444444" textLength="12.4" lengthAdjust="spacingAndGlyphs">H4</text>
<text x="1073.9" y="12.5" font-family="Liberation Sans, sans-serif" font-size="9px" fill="#444444" textLength="11.5" lengthAdjust="spacingAndGlyphs">D1</text>
<text x="1101.2" y="12.5" font-family="Liberation Sans, sans-serif" font-size="9px" fill="#444444" textLength="13.8" lengthAdjust="spacingAndGlyphs">W1</text>
<text x="1127.8" y="12.5" font-family="Liberation Sans, sans-serif" font-size="9px" fill="#444444" textLength="14.5" lengthAdjust="spacingAndGlyphs">MN</text>
<path d="M1612.7,14 L1617.5,9.3" stroke="#2a5cc8" stroke-width="2.4" stroke-linecap="round"/><circle cx="1620.7" cy="6.3" r="3.7" fill="#f4f4f8" stroke="#3a6cd8" stroke-width="1.3"/>
<path d="M1638,11 a6,5 0 0 1 6,-5 h3 a6,5 0 0 1 0,10 h-4 l-2.5,2 l0.3,-2.3 a6,5 0 0 1 -2.8,-4.7 Z" fill="#e4e6ee" stroke="#c4c6cc" stroke-width="0.7"/>
<circle cx="1651.5" cy="6.6" r="8.3" fill="url(#gr)"/>
<text x="1651.5" y="11.5" font-family="Liberation Sans, sans-serif" font-size="13px" fill="#fff" text-anchor="middle">1</text>
</svg>
</body></html>
